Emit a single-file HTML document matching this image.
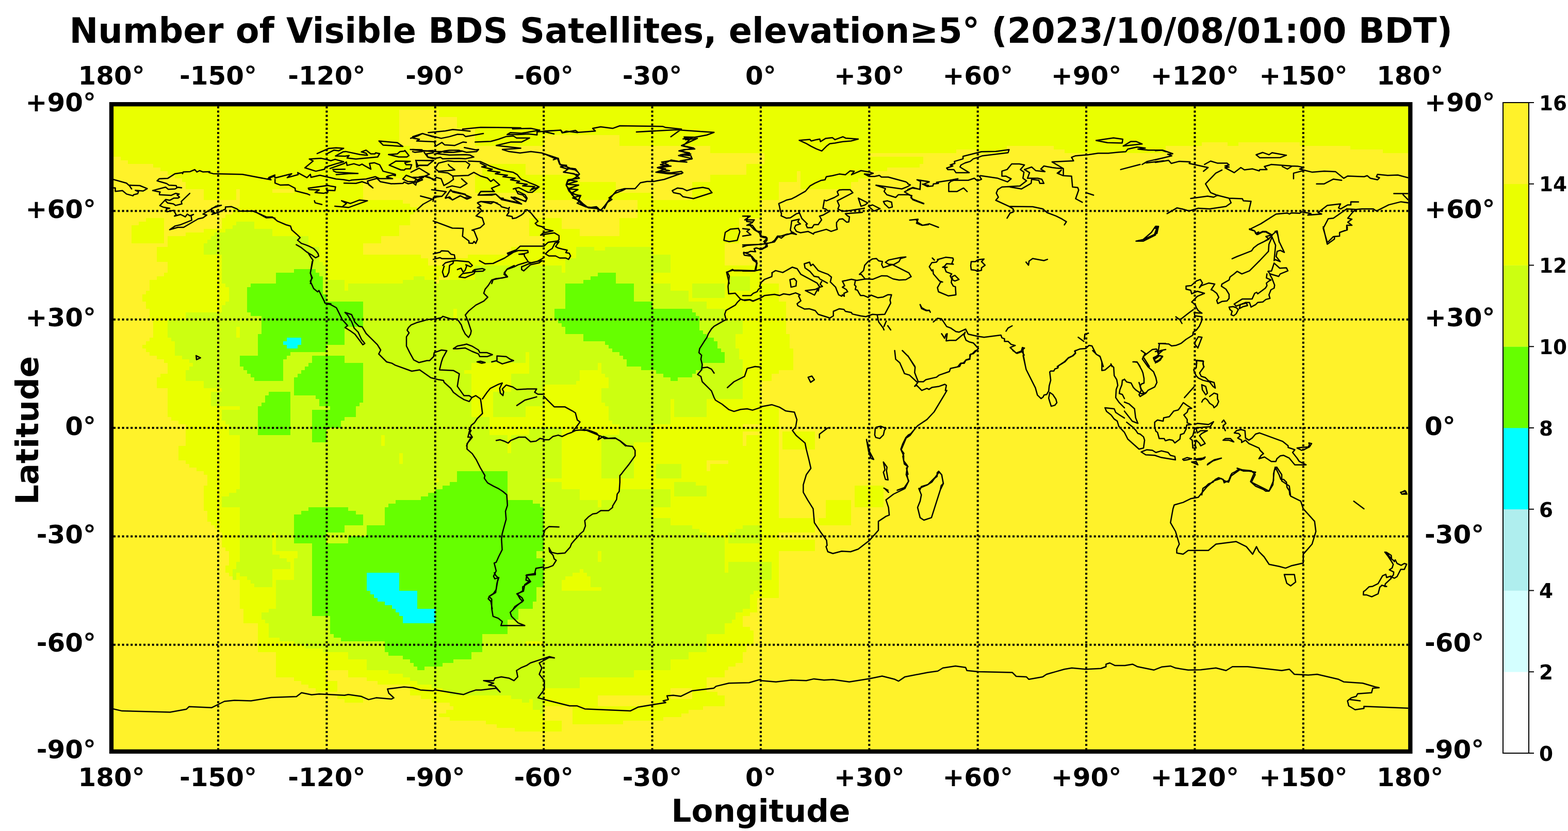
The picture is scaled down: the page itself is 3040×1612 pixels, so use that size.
<!DOCTYPE html><html><head><meta charset="utf-8"><style>html,body{margin:0;padding:0;background:#fff;}svg{display:block} text{font-family:"DejaVu Sans","Liberation Sans",sans-serif;font-weight:bold;fill:#000}</style></head><body><svg xmlns="http://www.w3.org/2000/svg" width="3040" height="1612" viewBox="0 0 3040 1612"><rect x="0" y="0" width="3040" height="1612" fill="#fff"/><rect x="216.0" y="202.2" width="2518.3" height="1255.6" fill="#fff22a"/><g transform="translate(1474.9,830.1) scale(7.0125,-7.0125)" shape-rendering="crispEdges"><path fill="#00ffff" d="M-131 25h4v-2h-4zM-132 24h1v-1h-1zM-131 23h3v-1h-3zM-109 -40h9v-5h-9zM-108 -45h13v-1h-13zM-107 -46h12v-1h-12zM-106 -47h11v-1h-11zM-104 -48h9v-1h-9zM-102 -49h7v-1h-7zM-101 -50h11v-1h-11zM-100 -51h10v-1h-10zM-99 -52h9v-2h-9z"/><path fill="#66ff00" d="M-129 44h6v-19h-6zM-134 43h5v-18h-5zM-123 43h1v-22h-1zM-45 43h5v-19h-5zM-122 42h1v-21h-1zM-47 42h2v-18h-2zM-49 41h2v-17h-2zM-141 40h7v-9h-7zM-54 40h5v-14h-5zM-40 40h5v-19h-5zM-142 39h1v-7h-1zM-121 37h1v-16h-1zM-120 35h10v-7h-10zM-35 35h5v-18h-5zM-57 33h3v-3h-3zM-30 33h11v-17h-11zM-19 32h1v-17h-1zM-138 31h4v-18h-4zM-18 31h1v-15h-1zM-56 30h2v-1h-2zM-55 29h1v-1h-1zM-120 28h5v-5h-5zM-17 27h1v-11h-1zM-139 26h1v-13h-1zM-16 26h1v-8h-1zM-134 25h3v-1h-3zM-127 25h4v-4h-4zM-15 25h2v-7h-2zM-134 24h2v-11h-2zM-43 24h3v-1h-3zM-13 24h1v-6h-1zM-132 23h1v-4h-1zM-128 23h1v-2h-1zM-42 23h2v-1h-2zM-131 22h3v-1h-3zM-41 22h1v-1h-1zM-12 22h1v-4h-1zM-131 21h1v-1h-1zM-39 21h4v-1h-4zM-11 21h1v-3h-1zM-144 20h5v-3h-5zM-124 20h9v-11h-9zM-38 20h3v-1h-3zM-37 19h2v-2h-2zM-125 18h1v-9h-1zM-115 18h5v-11h-5zM-143 17h4v-1h-4zM-126 17h1v-8h-1zM-33 17h3v-1h-3zM-142 16h3v-1h-3zM-127 16h1v-7h-1zM-29 16h10v-1h-10zM-141 15h2v-1h-2zM-128 15h1v-6h-1zM-27 15h8v-1h-8zM-140 14h1v-1h-1zM-129 14h1v-5h-1zM-25 14h2v-1h-2zM-136 10h6v-12h-6zM-137 9h1v-11h-1zM-123 9h8v-1h-8zM-122 8h7v-2h-7zM-138 7h1v-9h-1zM-115 7h4v-1h-4zM-139 6h1v-8h-1zM-119 6h7v-3h-7zM-124 5h5v-5h-5zM-119 3h4v-1h-4zM-119 2h3v-2h-3zM-124 0h4v-4h-4zM-84 -12h14v-45h-14zM-86 -15h2v-49h-2zM-88 -16h2v-49h-2zM-90 -17h2v-49h-2zM-92 -18h2v-32h-2zM-94 -19h2v-31h-2zM-101 -20h7v-20h-7zM-70 -20h7v-30h-7zM-103 -21h2v-19h-2zM-63 -21h2v-13h-2zM-125 -22h11v-5h-11zM-104 -22h1v-18h-1zM-61 -22h1v-12h-1zM-127 -23h2v-9h-2zM-114 -23h2v-4h-2zM-129 -24h2v-8h-2zM-112 -24h2v-3h-2zM-125 -27h10v-2h-10zM-109 -27h5v-13h-5zM-125 -29h5v-3h-5zM-114 -30h5v-29h-5zM-124 -32h10v-20h-10zM-63 -34h1v-14h-1zM-62 -36h2v-8h-2zM-100 -40h6v-5h-6zM-109 -45h1v-14h-1zM-95 -45h1v-5h-1zM-108 -46h1v-13h-1zM-107 -47h1v-12h-1zM-106 -48h2v-11h-2zM-104 -49h2v-13h-2zM-102 -50h1v-13h-1zM-70 -50h3v-3h-3zM-101 -51h1v-12h-1zM-119 -52h5v-5h-5zM-100 -52h1v-11h-1zM-99 -54h9v-10h-9zM-118 -57h4v-1h-4zM-84 -57h7v-5h-7zM-116 -58h2v-1h-2zM-103 -62h1v-1h-1zM-84 -62h4v-2h-4zM-97 -64h7v-1h-7zM-86 -64h1v-1h-1zM-96 -65h6v-1h-6zM-95 -66h2v-1h-2z"/><path fill="#ccff11" d="M-145 57h5v-17h-5zM-146 56h1v-50h-1zM-148 55h2v-16h-2zM-140 55h5v-15h-5zM-151 54h3v-6h-3zM-152 53h1v-5h-1zM-135 53h10v-9h-10zM-153 52h1v-4h-1zM-154 51h1v-3h-1zM-125 50h3v-6h-3zM-51 50h5v-8h-5zM-43 50h13v-7h-13zM-46 49h3v-6h-3zM-149 48h1v-8h-1zM-30 48h5v-5h-5zM-54 47h3v-7h-3zM-122 46h1v-4h-1zM-121 45h1v-8h-1zM-79 45h24v-12h-24zM-135 44h6v-1h-6zM-123 44h1v-1h-1zM-135 43h1v-3h-1zM-55 43h1v-10h-1zM-46 43h1v-1h-1zM-40 43h10v-3h-10zM-96 42h3v-61h-3zM-51 42h4v-1h-4zM-9 42h6v-4h-6zM-120 41h5v-6h-5zM-99 41h3v-61h-3zM-93 41h3v-59h-3zM-89 41h10v-8h-10zM-51 41h2v-1h-2zM-145 40h4v-1h-4zM-114 40h15v-5h-15zM-90 40h1v-54h-1zM-35 40h10v-5h-10zM-19 40h9v-4h-9zM-147 39h1v-33h-1zM-145 39h3v-11h-3zM-115 38h1v-3h-1zM-25 38h5v-5h-5zM-148 35h1v-29h-1zM-110 35h11v-37h-11zM-30 35h5v-2h-5zM-20 35h5v-2h-5zM-149 34h1v-28h-1zM-89 33h4v-48h-4zM-84 33h27v-12h-27zM-19 33h9v-1h-9zM-159 32h10v-13h-10zM-142 32h1v-12h-1zM-18 32h8v-1h-8zM-141 31h3v-5h-3zM-17 31h7v-4h-7zM-164 30h5v-5h-5zM-85 30h1v-45h-1zM-57 30h1v-18h-1zM-10 30h5v-4h-5zM-56 29h1v-17h-1zM-144 28h2v-8h-2zM-115 28h5v-10h-5zM-55 28h1v-16h-1zM-16 27h6v-1h-6zM-141 26h2v-6h-2zM-54 26h5v-10h-5zM-15 26h8v-1h-8zM-163 25h4v-1h-4zM-145 25h1v-19h-1zM-13 25h6v-1h-6zM-162 24h3v-4h-3zM-49 24h6v-6h-6zM-12 24h5v-2h-5zM-120 23h5v-3h-5zM-43 23h1v-9h-1zM-42 22h1v-20h-1zM-11 22h5v-1h-5zM-130 21h10v-1h-10zM-84 21h19v-3h-19zM-64 21h7v-9h-7zM-41 21h2v-20h-2zM-10 21h4v-13h-4zM-160 20h1v-1h-1zM-131 20h7v-2h-7zM-39 20h1v-34h-1zM-158 19h9v-1h-9zM-132 19h1v-9h-1zM-38 19h1v-33h-1zM-6 19h1v-11h-1zM-157 18h8v-5h-8zM-131 18h6v-1h-6zM-84 18h4v-2h-4zM-49 18h4v-2h-4zM-44 18h1v-3h-1zM-16 18h6v-10h-6zM-158 17h1v-4h-1zM-144 17h1v-58h-1zM-131 17h5v-1h-5zM-37 17h4v-21h-4zM-159 16h1v-3h-1zM-143 16h1v-57h-1zM-131 16h4v-1h-4zM-84 16h2v-28h-2zM-54 16h4v-3h-4zM-33 16h4v-15h-4zM-18 16h2v-13h-2zM-142 15h1v-57h-1zM-131 15h3v-1h-3zM-82 15h2v-27h-2zM-69 15h5v-9h-5zM-29 15h2v-14h-2zM-19 15h1v-12h-1zM-141 14h1v-57h-1zM-131 14h2v-4h-2zM-27 14h2v-13h-2zM-23 14h4v-11h-4zM-154 13h5v-2h-5zM-140 13h8v-3h-8zM-54 13h3v-1h-3zM-25 13h2v-5h-2zM-64 12h4v-6h-4zM-44 11h2v-4h-2zM-152 10h3v-4h-3zM-140 10h4v-1h-4zM-130 10h1v-44h-1zM-74 10h5v-7h-5zM-140 9h3v-2h-3zM-129 9h6v-4h-6zM-123 8h1v-3h-1zM-24 8h1v-5h-1zM-16 8h1v-5h-1zM-140 7h2v-1h-2zM-111 7h1v-31h-1zM-43 7h1v-1h-1zM-140 6h1v-50h-1zM-122 6h3v-1h-3zM-112 6h1v-30h-1zM-69 6h4v-3h-4zM-149 5h5v-3h-5zM-129 5h5v-27h-5zM-115 3h3v-25h-3zM-80 3h5v-15h-5zM-148 2h4v-1h-4zM-116 2h1v-24h-1zM-147 1h3v-3h-3zM-33 1h3v-5h-3zM-120 0h4v-22h-4zM-64 0h9v-14h-9zM-139 -2h9v-27h-9zM-110 -2h5v-25h-5zM-104 -2h5v-5h-5zM-75 -2h5v-10h-5zM-69 -2h5v-18h-5zM-44 -2h5v-12h-5zM-124 -4h4v-18h-4zM-37 -4h2v-10h-2zM-105 -5h1v-22h-1zM-104 -7h4v-13h-4zM-70 -7h1v-13h-1zM-100 -10h1v-10h-1zM-29 -10h7v-4h-7zM-64 -14h4v-6h-4zM-90 -15h4v-1h-4zM-60 -15h5v-57h-5zM-24 -15h6v-4h-6zM-90 -16h2v-1h-2zM-18 -16h3v-3h-3zM-145 -17h1v-5h-1zM-55 -17h5v-23h-5zM-39 -17h14v-5h-14zM-147 -18h2v-4h-2zM-93 -18h1v-1h-1zM-149 -19h2v-3h-2zM-96 -19h2v-1h-2zM-104 -20h3v-1h-3zM-63 -20h3v-1h-3zM-50 -20h5v-19h-5zM-44 -20h5v-49h-5zM-104 -21h1v-1h-1zM-61 -21h1v-1h-1zM-129 -22h4v-1h-4zM-114 -22h2v-1h-2zM-45 -22h1v-12h-1zM-39 -22h9v-45h-9zM-129 -23h2v-1h-2zM-30 -25h5v-42h-5zM-115 -27h6v-3h-6zM-25 -27h6v-35h-6zM-5 -27h5v-5h-5zM-19 -28h2v-34h-2zM-7 -28h2v-4h-2zM-139 -29h4v-15h-4zM-134 -29h4v-5h-4zM-120 -29h5v-3h-5zM-17 -29h2v-33h-2zM-9 -29h2v-3h-2zM-115 -30h1v-2h-1zM-15 -30h5v-27h-5zM-129 -32h5v-2h-5zM-128 -34h4v-26h-4zM-62 -34h2v-2h-2zM-135 -35h2v-4h-2zM-133 -36h2v-3h-2zM-129 -36h1v-24h-1zM-145 -37h1v-3h-1zM-131 -37h1v-2h-1zM-45 -37h1v-7h-1zM-9 -37h12v-5h-12zM-146 -39h1v-3h-1zM-49 -39h4v-1h-4zM-55 -40h3v-1h-3zM-48 -40h3v-1h-3zM-10 -40h1v-14h-1zM-55 -41h1v-1h-1zM-47 -41h2v-3h-2zM-134 -42h5v-16h-5zM-9 -42h9v-3h-9zM-62 -44h2v-15h-2zM-55 -45h11v-24h-11zM-9 -45h7v-1h-7zM-9 -46h6v-4h-6zM-63 -48h1v-11h-1zM-136 -50h2v-8h-2zM-67 -50h4v-9h-4zM-9 -50h4v-1h-4zM-138 -51h2v-2h-2zM-9 -51h2v-2h-2zM-124 -52h5v-9h-5zM-137 -53h1v-1h-1zM-70 -53h3v-21h-3zM-9 -53h1v-1h-1zM-119 -57h1v-5h-1zM-77 -57h7v-17h-7zM-133 -58h4v-1h-4zM-118 -58h2v-4h-2zM-116 -59h12v-3h-12zM-67 -59h2v-16h-2zM-126 -60h2v-1h-2zM-65 -60h5v-15h-5zM-121 -61h2v-1h-2zM-114 -62h11v-2h-11zM-80 -62h3v-12h-3zM-25 -62h5v-2h-5zM-103 -63h4v-5h-4zM-109 -64h6v-3h-6zM-99 -64h2v-5h-2zM-85 -64h5v-10h-5zM-97 -65h1v-5h-1zM-88 -65h3v-8h-3zM-96 -66h1v-4h-1zM-93 -66h5v-5h-5zM-95 -67h2v-4h-2zM-39 -67h4v-2h-4zM-55 -69h5v-3h-5zM-91 -71h3v-1h-3zM-86 -73h1v-1h-1zM-69 -74h2v-1h-2zM-66 -75h2v-1h-2zM-63 -75h3v-3h-3zM-61 -78h1v-1h-1z"/><path fill="#eaff00" d="M-180 90h360v-2h-360zM-180 88h80v-13h-80zM-89 88h269v-2h-269zM-84 86h264v-3h-264zM-79 83h259v-2h-259zM-79 81h19v-3h-19zM-39 81h219v-2h-219zM-39 79h161v-1h-161zM129 79h3v-1h-3zM149 79h31v-1h-31zM-100 78h3v-9h-3zM-14 78h82v-1h-82zM81 78h31v-1h-31zM163 78h17v-1h-17zM-14 77h68v-1h-68zM60 77h8v-1h-8zM84 77h28v-1h-28zM172 77h8v-1h-8zM1 76h29v-5h-29zM-177 75h77v-1h-77zM30 75h15v-2h-15zM-175 74h75v-1h-75zM-168 73h68v-1h-68zM-77 73h12v-8h-12zM-4 73h5v-10h-5zM30 73h14v-1h-14zM-166 72h66v-1h-66zM30 72h5v-1h-5zM-164 71h64v-1h-64zM1 71h9v-3h-9zM11 71h19v-2h-19zM-162 70h62v-1h-62zM-79 70h2v-5h-2zM-65 70h15v-5h-15zM-14 70h10v-12h-10zM-160 69h50v-1h-50zM11 69h16v-1h-16zM-159 68h49v-2h-49zM-50 68h10v-5h-10zM-19 68h5v-28h-5zM1 68h4v-5h-4zM11 68h14v-2h-14zM-154 66h9v-3h-9zM-144 66h9v-9h-9zM-129 66h19v-13h-19zM-135 65h6v-12h-6zM-60 65h10v-2h-10zM-40 65h10v-2h-10zM-110 63h11v-7h-11zM-34 63h15v-13h-15zM-4 63h4v-5h-4zM-99 62h2v-6h-2zM-146 61h2v-4h-2zM-97 61h2v-1h-2zM-97 60h1v-1h-1zM-148 59h2v-4h-2zM-170 58h5v-7h-5zM-149 58h1v-4h-1zM-64 58h9v-5h-9zM-39 58h5v-8h-5zM-14 58h8v-7h-8zM-172 57h2v-6h-2zM-146 57h1v-1h-1zM-140 57h5v-2h-5zM-174 56h2v-5h-2zM-110 56h10v-3h-10zM-154 55h5v-1h-5zM-55 55h5v-5h-5zM-159 54h8v-1h-8zM-164 53h12v-1h-12zM-125 53h20v-2h-20zM-60 53h5v-8h-5zM-50 53h11v-3h-11zM-164 52h11v-1h-11zM-164 51h10v-19h-10zM-125 51h15v-1h-15zM-14 51h4v-11h-4zM-167 50h3v-4h-3zM-122 50h12v-4h-12zM-69 50h9v-5h-9zM-55 50h4v-3h-4zM-46 50h3v-1h-3zM-30 50h11v-2h-11zM-154 48h5v-16h-5zM-110 48h16v-6h-16zM-81 48h12v-3h-12zM-25 48h6v-10h-6zM-94 47h2v-5h-2zM-86 47h5v-6h-5zM-55 47h1v-4h-1zM-121 46h11v-1h-11zM-120 45h10v-4h-10zM-92 45h6v-3h-6zM-81 45h2v-4h-2zM-10 45h10v-3h-10zM-165 43h1v-25h-1zM-30 43h5v-3h-5zM-167 42h2v-23h-2zM-110 42h14v-1h-14zM-93 42h4v-1h-4zM-10 42h1v-12h-1zM-3 42h3v-41h-3zM-169 41h2v-11h-2zM-115 41h16v-1h-16zM-149 40h1v-6h-1zM-115 40h1v-2h-1zM0 40h5v-25h-5zM-148 39h1v-4h-1zM-170 38h1v-5h-1zM-20 38h1v-3h-1zM-9 38h6v-8h-6zM-171 37h1v-2h-1zM-19 36h9v-1h-9zM-15 35h5v-2h-5zM5 35h2v-19h-2zM-85 33h1v-3h-1zM-164 32h5v-2h-5zM-168 30h1v-10h-1zM-5 30h2v-29h-2zM-145 28h1v-3h-1zM-7 26h2v-4h-2zM7 26h1v-10h-1zM-169 25h1v-5h-1zM-164 25h1v-22h-1zM-170 24h1v-3h-1zM-163 24h1v-22h-1zM-171 23h1v-1h-1zM-6 22h1v-3h-1zM8 22h1v-6h-1zM-65 21h1v-6h-1zM-162 20h2v-18h-2zM-160 19h2v-3h-2zM-158 18h1v-1h-1zM-80 18h15v-3h-15zM-45 18h1v-40h-1zM-160 16h1v-15h-1zM-82 16h2v-1h-2zM-50 16h5v-36h-5zM-166 15h2v-4h-2zM-80 15h11v-5h-11zM-44 15h1v-4h-1zM0 15h3v-2h-3zM-167 14h1v-3h-1zM-43 14h1v-3h-1zM-159 13h5v-23h-5zM-51 13h1v-30h-1zM-60 12h9v-12h-9zM-154 11h5v-1h-5zM-154 10h2v-23h-2zM-80 10h6v-7h-6zM-25 8h1v-18h-1zM-15 8h10v-17h-10zM-44 7h1v-9h-1zM-152 6h8v-1h-8zM-65 6h5v-6h-5zM-43 6h1v-8h-1zM0 6h5v-43h-5zM-152 5h3v-32h-3zM-75 3h10v-5h-10zM-24 3h9v-13h-9zM-161 2h1v-1h-1zM-149 2h1v-21h-1zM-42 2h1v-4h-1zM-148 1h1v-20h-1zM-41 1h2v-3h-2zM-30 1h5v-11h-5zM-65 0h1v-2h-1zM-55 0h4v-17h-4zM-5 0h5v-1h-5zM6 -1h9v-5h-9zM-147 -2h3v-15h-3zM-105 -2h1v-3h-1zM-70 -2h1v-5h-1zM-4 -2h4v-25h-4zM-35 -4h5v-13h-5zM-161 -5h2v-4h-2zM-5 -5h1v-22h-1zM-100 -7h1v-3h-1zM-9 -9h4v-19h-4zM-158 -10h4v-1h-4zM-30 -10h1v-7h-1zM-22 -10h7v-5h-7zM-14 -10h5v-20h-5zM-156 -11h2v-1h-2zM-15 -12h1v-18h-1zM-153 -13h1v-13h-1zM-90 -14h1v-1h-1zM-60 -14h5v-1h-5zM-44 -14h9v-3h-9zM-29 -14h7v-1h-7zM-29 -15h5v-2h-5zM-18 -15h3v-1h-3zM-154 -16h1v-7h-1zM26 -16h8v-6h-8zM-147 -17h2v-1h-2zM-44 -17h5v-3h-5zM-25 -17h1v-10h-1zM-24 -19h9v-8h-9zM18 -20h7v-7h-7zM-149 -22h5v-11h-5zM-30 -22h5v-3h-5zM5 -25h10v-4h-10zM16 -25h2v-2h-2zM-151 -27h2v-1h-2zM-19 -27h4v-1h-4zM-150 -28h1v-1h-1zM-17 -28h2v-1h-2zM-9 -28h2v-1h-2zM-135 -29h1v-6h-1zM-10 -30h1v-10h-1zM5 -31h10v-3h-10zM-9 -32h9v-5h-9zM-148 -33h4v-1h-4zM-147 -34h3v-3h-3zM-134 -34h6v-1h-6zM-45 -34h1v-3h-1zM-133 -35h5v-1h-5zM-131 -36h2v-1h-2zM-147 -37h2v-2h-2zM-130 -37h1v-5h-1zM3 -37h2v-10h-2zM-148 -38h1v-2h-1zM-147 -39h1v-2h-1zM-135 -39h5v-3h-5zM-50 -39h1v-6h-1zM-145 -40h1v-2h-1zM-52 -40h2v-5h-2zM-49 -40h1v-5h-1zM-144 -41h2v-9h-2zM-54 -41h2v-4h-2zM-48 -41h1v-4h-1zM-142 -42h1v-12h-1zM-135 -42h1v-8h-1zM-55 -42h1v-3h-1zM0 -42h3v-5h-3zM-141 -43h1v-11h-1zM-140 -44h5v-6h-5zM-47 -44h3v-1h-3zM-2 -45h2v-2h-2zM-3 -46h1v-5h-1zM-2 -47h1v-4h-1zM-143 -50h1v-4h-1zM-140 -50h4v-1h-4zM-5 -50h2v-2h-2zM-140 -51h2v-3h-2zM-7 -51h2v-14h-2zM-138 -53h1v-9h-1zM-8 -53h1v-13h-1zM-139 -54h1v-8h-1zM-137 -54h1v-8h-1zM-10 -54h2v-12h-2zM-5 -55h2v-5h-2zM-3 -56h1v-4h-1zM-15 -57h5v-12h-5zM-136 -58h3v-4h-3zM-133 -59h4v-10h-4zM-65 -59h5v-1h-5zM-129 -60h3v-10h-3zM-5 -60h1v-2h-1zM-126 -61h5v-10h-5zM-134 -62h1v-7h-1zM-121 -62h7v-5h-7zM-20 -62h5v-10h-5zM-114 -64h5v-5h-5zM-25 -64h5v-8h-5zM-10 -66h1v-1h-1zM-121 -67h1v-6h-1zM-109 -67h6v-3h-6zM-35 -67h10v-7h-10zM-103 -68h4v-3h-4zM-99 -69h2v-2h-2zM-50 -69h15v-5h-15zM-127 -70h1v-1h-1zM-120 -70h3v-3h-3zM-106 -70h3v-1h-3zM-97 -70h2v-4h-2zM-125 -71h4v-1h-4zM-95 -71h4v-3h-4zM-123 -72h2v-1h-2zM-91 -72h3v-4h-3zM-60 -72h10v-5h-10zM-19 -72h4v-5h-4zM-88 -73h2v-3h-2zM-15 -73h3v-4h-3zM-117 -74h7v-1h-7zM-94 -74h3v-1h-3zM-86 -74h17v-3h-17zM-50 -74h5v-8h-5zM-30 -74h5v-6h-5zM-12 -74h2v-3h-2zM-115 -75h5v-1h-5zM-69 -75h3v-8h-3zM-64 -75h1v-9h-1zM-25 -75h6v-3h-6zM-66 -76h2v-8h-2zM-85 -77h16v-4h-16zM-52 -77h2v-5h-2zM-45 -77h15v-4h-15zM-19 -77h3v-1h-3zM-87 -78h2v-2h-2zM-63 -78h2v-6h-2zM-25 -78h5v-1h-5zM-89 -79h2v-1h-2zM-61 -79h1v-5h-1zM-25 -79h3v-1h-3zM-86 -80h1v-1h-1zM-30 -80h3v-1h-3zM-76 -81h7v-1h-7zM-60 -81h5v-3h-5zM-45 -81h7v-1h-7zM-73 -82h4v-1h-4zM-68 -83h2v-1h-2z"/></g><clipPath id="mc"><rect x="220" y="206" width="2510" height="1248"/></clipPath><g clip-path="url(#mc)"><path d="M219.9 348.1 245.3 355.3 251.2 360.6 255.2 366.5M251.2 359.3 271.0 360.0 285.5 365.9 277.6 370.5 262.4 369.2 268.4 371.8 267.0 375.8 259.1 377.7 257.8 379.7 245.3 376.4 237.4 369.8 223.5 371.2 223.5 364.6 219.9 364.6M533.0 339.5 521.4 344.1 525.4 348.8 470.0 338.2 413.3 336.9 405.4 334.9 406.7 332.9 393.6 333.6 387.0 331.0 381.7 333.6 377.7 329.0 368.5 332.9 355.3 333.6 354.0 336.9 353.4 334.9 339.5 336.9 325.0 346.1 308.6 346.8 304.6 350.7 323.0 356.0 327.7 359.3 341.5 360.0 342.8 363.3 352.0 364.3 344.8 363.3 339.5 366.5 326.3 367.2 321.1 363.0 296.0 369.6 303.9 371.2 310.5 372.5 309.2 375.1 309.2 377.7 331.6 379.1 340.2 375.1 347.4 376.4 343.5 378.4 348.1 382.4 344.8 384.3 336.9 384.3 329.0 388.6 321.1 387.0 309.9 398.8 317.1 402.1 329.0 404.1 322.4 405.4 323.7 410.7 336.9 408.1 341.5 416.6 338.2 419.3 350.1 416.0 359.3 420.6 363.2 415.3 367.9 418.6 375.1 416.0 370.5 418.6 371.8 427.2 350.7 435.7 339.5 438.4 329.0 445.6 344.8 441.0 356.0 441.0 384.3 424.5 393.6 422.5 400.8 417.3 393.6 415.3 418.6 400.1 429.1 398.2 410.7 404.1 409.4 410.7 416.0 412.0 410.7 416.0 426.5 410.7 437.1 405.4 437.1 401.5 448.9 400.8 459.5 405.4 464.7 409.4 492.4 409.4 516.1 422.5 526.7 421.9 533.0 423.2M367.9 375.1 351.4 390.9 352.7 395.5 340.2 398.6 336.2 395.5 325.0 393.8 321.1 389.6M520.0 346.0 532.5 341.3 533.2 345.3 541.1 343.3 565.5 337.0 556.9 344.6 578.0 338.7 577.3 334.8 595.1 344.6 601.7 338.1 603.0 344.0 620.2 340.0 651.8 347.3 666.3 348.6 676.8 350.6 682.1 349.3 709.8 347.3 727.6 342.7 736.1 346.6 761.2 346.6 749.3 343.3M667.0 355.2 690.0 355.8 701.9 352.5 713.7 356.5 723.0 364.4 715.1 358.5 712.4 351.2 730.9 346.0 737.5 352.5 758.6 356.5 781.0 355.8 783.6 353.2 791.5 356.5 800.7 354.5 806.0 359.1 807.3 353.9 819.2 348.6 812.6 343.3 821.8 342.0M639.9 326.9 667.6 317.0 671.6 314.3 672.9 320.9 686.1 317.6 696.6 320.9 701.9 318.3 705.8 320.9 719.0 328.2 716.4 317.0 725.6 315.7 736.1 319.6 742.7 332.1 766.5 338.1 766.5 340.7 761.2 339.4 750.6 342.0M645.2 328.8 668.9 328.2M651.8 338.7 676.8 336.7 694.0 336.5 651.8 334.1 646.5 331.5M591.2 325.5 607.0 312.4 599.7 308.4 622.8 307.1 634.7 309.7 641.3 311.7 649.8 309.1 666.3 313.7 651.8 317.6 630.7 324.2 629.4 328.2 612.3 332.1 591.2 325.5M614.9 297.9 637.3 288.0 651.8 286.7 666.3 287.7 656.4 292.6 647.2 291.3 636.0 297.2 632.0 298.5M650.5 302.5 665.0 294.6 670.2 293.9 697.9 299.8 712.4 301.2 709.8 297.2 700.6 294.6 709.8 291.3 719.0 298.5 726.9 298.5 728.2 296.5 736.1 297.9 732.2 304.5 690.0 308.4 672.9 306.4 676.8 301.8 668.9 303.1 650.5 302.5M734.8 273.5 770.4 276.8 781.0 284.0 742.7 281.4 734.8 273.5M753.3 299.8 770.4 298.5 775.7 293.9 783.6 293.3 784.9 291.9 792.8 301.8 788.9 304.5 773.0 304.5 753.3 299.8M754.6 320.3 762.5 315.7 767.8 312.4 795.5 313.0 784.9 315.7 787.5 319.6 798.1 319.6 795.5 327.5 786.2 327.5 783.6 330.1 777.0 329.5 754.6 320.3M795.5 290.0 817.9 290.6 819.2 293.3 840.0 291.9M840.0 296.5 827.1 298.5 829.7 305.1 840.0 307.7M796.1 268.2 810.0 263.6 819.2 259.0 840.0 265.6M806.0 311.0 840.0 311.7 829.1 320.9 810.0 320.9 806.0 311.0M796.8 334.1 812.6 326.2 832.4 338.1 823.1 342.0 840.0 347.3M781.0 347.3 787.5 340.0 807.3 347.3 803.4 352.5 790.2 351.9 781.0 347.3M597.8 365.1 636.0 359.8 641.3 361.1 650.5 362.4 649.2 369.7 633.3 369.0 636.0 372.3 628.1 374.9 610.9 373.6 618.8 368.4 599.1 367.7 597.8 365.1M533.2 347.9 533.2 355.2 543.7 359.1 559.5 358.5 572.1 365.1 572.7 370.3 596.4 376.3 600.4 378.2M609.6 389.4 610.9 393.4 624.1 396.7M649.2 400.0 663.7 401.3 675.5 402.6 712.4 389.4 696.6 388.1 679.5 394.7 662.3 389.4 671.6 394.7 665.0 400.0M815.2 380.2 840.0 386.8M808.6 406.6 820.5 396.0 840.0 385.5M800.0 265.1 818.5 259.1 855.4 268.4 871.2 265.1 887.0 260.5 898.2 261.1 902.8 265.1 937.1 259.1M800.0 267.7 813.2 270.3 807.9 273.6 842.2 275.0 844.8 283.5 856.7 276.3 861.9 280.9 881.7 282.2 897.5 275.6 904.1 276.3M830.3 257.2 863.3 253.9 877.8 251.2 900.2 253.2 911.4 254.5M896.9 250.6 931.8 246.9 964.7 247.3 1009.6 247.9 993.7 249.9 1029.3 249.0 1046.5 252.6M1046.5 252.6 1010.9 258.5 989.8 257.2 983.2 261.1 1004.3 261.1 1024.1 259.8 1041.2 261.8 1041.2 255.8 1087.3 252.6 1090.0 257.8 1097.9 254.5 1120.0 257.2M1054.4 255.2 1074.1 259.8M921.3 275.6 951.6 274.3 966.1 270.3 980.6 265.1 995.1 263.8 1001.6 267.7 1026.7 267.7 1010.9 275.6 989.8 275.6 962.1 282.2 1009.6 287.5 974.0 290.1 987.1 294.1 1008.2 296.7 1029.3 294.1 1050.4 296.7 1080.7 306.6 1084.7 317.8 1090.0 320.4 1099.2 323.1 1101.8 327.0 1115.0 329.6 1120.0 333.6M900.2 286.2 922.6 290.8 927.8 290.1 923.9 294.1 904.1 295.4 894.9 292.7 879.1 295.4 856.7 294.1 838.2 294.1 818.5 292.1 800.0 290.8M800.0 290.1 818.5 290.8 818.5 294.1 804.0 295.4 800.0 294.1M822.4 295.4 829.0 304.6 843.5 307.2 854.0 305.3 858.0 307.9 889.6 307.2 902.8 307.9 918.6 304.6 910.7 300.7 902.8 300.0 871.2 300.7 847.4 298.0M842.2 299.3 861.9 292.7 871.2 291.4 889.6 291.4 894.9 293.4 879.1 295.4 860.6 295.4M806.6 311.2 840.9 311.2 829.0 320.4 813.2 320.4 807.9 324.4 806.6 311.2M843.5 327.0 850.1 316.5 868.5 311.9 880.4 313.2 902.8 313.2 910.7 319.1 906.8 326.3M843.5 327.0 850.1 332.3 868.5 331.0 881.7 329.6 871.2 321.7 869.2 319.1M908.1 312.5 931.8 313.6 943.7 319.1 948.9 321.7 967.4 328.3 983.2 332.3 995.1 334.3 1003.0 338.9 1008.2 345.5 1010.9 348.1 1021.4 352.0 1026.7 354.7 1037.2 358.6 1045.1 362.6 1037.2 365.2 1028.0 369.2M850.1 333.6 868.5 335.6 877.8 341.5 879.1 348.1 869.9 354.7 860.6 359.9 855.4 346.8 846.1 344.1 840.9 349.4 832.9 344.1 823.7 341.5M877.8 341.5 908.1 340.2 918.6 334.3 931.8 341.5 945.0 345.5 951.6 352.0 956.8 348.1 968.7 358.6 952.9 365.2 958.2 371.8 931.8 371.8 927.8 378.4 951.6 377.1 960.8 376.4 970.0 385.0 991.1 390.3 1005.6 392.9M894.9 346.8 905.4 356.0 892.3 363.9 876.4 360.6 865.9 363.9M800.0 344.1 821.1 344.1 807.9 349.4 818.5 349.4 800.0 354.7M836.9 367.9 864.6 371.8 856.7 381.0 842.2 380.4 839.5 390.3M863.3 383.7 873.8 367.9 877.8 372.5 900.2 377.1 913.3 383.0 905.4 386.3 892.3 379.7 877.8 387.6 869.9 383.7M995.1 366.5 1005.6 363.9 1024.1 373.1 1032.0 373.1 1045.1 362.6M999.0 365.2 1004.3 375.8 1013.5 378.4 1021.4 386.3 1018.8 390.3 991.1 382.3M926.5 392.9 931.8 390.9 956.8 391.6 964.7 394.2M1072.8 309.9 1080.7 307.2M1092.6 333.6 1120.0 338.9M1120.0 341.5 1113.7 345.5 1100.5 352.0 1097.9 359.9 1103.1 366.5 1108.4 377.1 1116.3 386.3 1120.0 387.6M1054.0 254.2 1087.4 252.4 1091.3 257.6 1115.7 253.0 1120.8 256.8 1154.2 254.2 1149.1 249.1 1164.5 246.0 1187.7 249.1 1201.8 244.0 1233.9 244.5 1285.3 245.3 1290.5 247.3 1321.3 250.4 1300.7 265.3M1357.3 255.0 1384.3 256.8 1370.1 262.0 1347.0 266.3 1326.4 265.8 1329.0 270.9 1352.1 268.4 1321.3 282.5 1347.0 288.9 1326.4 290.2 1316.2 292.8 1336.7 296.6 1318.7 300.5 1339.3 301.8 1341.9 308.2 1318.7 312.1 1331.6 314.6 1298.2 312.1 1282.7 314.6 1295.6 319.8 1275.0 324.9 1290.5 327.5 1272.5 333.9 1300.7 335.2 1321.3 332.6 1323.9 335.2 1287.9 348.0 1267.3 351.9 1254.5 351.9 1241.6 354.5 1231.3 366.0 1210.8 366.0 1195.4 369.9 1187.7 378.9 1179.9 389.1 1172.2 399.4 1164.5 408.4 1156.8 404.6 1141.4 403.3 1128.5 396.9 1118.3 386.6 1110.5 378.9 1102.8 369.9 1097.7 358.3 1100.3 350.6 1115.7 345.5 1123.4 337.8 1115.7 327.5 1105.4 326.2 1095.1 322.3 1086.1 319.8 1082.3 306.9 1074.6 306.9 1054.0 297.9M1233.9 256.0 1311.0 251.7 1357.3 255.0M1303.3 369.9 1313.6 364.7 1323.9 366.0 1331.6 369.9 1344.4 366.0 1362.4 363.5 1374.0 366.0 1380.4 373.7 1344.4 385.3 1323.9 381.4 1318.7 376.3 1305.9 373.7 1303.3 369.9M1403.5 466.2 1406.1 450.8 1416.4 444.4 1431.8 443.1 1434.4 449.5 1429.3 466.2 1413.8 468.8 1403.5 466.2M1442.1 489.4 1455.0 494.5 1460.1 504.8 1467.8 509.9 1465.2 525.3 1421.5 524.0 1408.7 527.9 1413.8 550.0M840.0 428.6 876.9 442.5 898.0 443.1 896.7 458.3 909.2 467.5 909.2 471.5 916.4 472.1 919.1 468.2 922.4 472.1 925.7 464.2 919.1 447.7 915.1 446.4 930.9 441.8 938.8 434.6 934.9 422.7 923.0 418.8 933.6 408.9 930.9 404.3 925.7 402.9 932.3 399.6 925.7 393.7 932.3 391.1 952.0 395.0 957.3 391.7 970.5 398.3 971.8 401.0 986.3 404.9 987.6 402.3M986.3 404.9 986.3 412.2 982.3 418.1 992.9 420.1 993.5 424.0 1000.8 422.7 1011.3 416.8 1015.3 413.5 1017.9 407.6 1021.9 406.9 1029.8 413.5 1035.1 420.1 1043.0 429.3 1037.7 433.3 1041.6 437.2 1050.9 439.8 1057.5 445.1 1072.0 447.7 1053.5 451.7 1048.2 456.3 1057.5 454.3 1074.6 451.7 1083.8 457.0 1083.8 464.9 1081.2 467.5 1062.7 470.1 1054.8 477.4 1008.7 477.4 1000.8 484.6 983.7 491.2 985.0 493.2 1004.7 486.0 1023.2 486.0 1023.9 489.9 1016.6 491.9 1006.1 493.2 1016.6 493.2 1016.6 496.5 1021.9 504.4 1024.5 508.4 1029.8 509.7 1041.6 507.0 1053.5 500.5M929.6 505.7 940.2 511.7 956.0 511.0 978.4 500.5 999.5 486.6M1021.9 508.4 1004.7 513.6 996.8 517.6 982.3 522.9 977.1 532.1 983.7 537.3 971.8 539.3 956.0 542.6 953.3 550.0M1011.3 517.6 1011.3 522.9 1015.3 525.5 1028.5 513.6 1045.6 509.7 1050.9 505.7 1041.6 507.0 1027.1 511.0 1011.3 517.6M1057.5 492.5 1064.1 486.0 1070.6 482.0 1074.6 474.1 1075.9 471.5 1083.8 468.8 1077.2 478.1 1081.2 480.7 1090.4 483.3 1099.6 485.3 1097.0 489.9 1103.6 491.2 1106.2 496.5 1102.3 503.1 1097.0 500.5 1085.1 500.5 1077.2 496.5 1064.1 496.5 1057.5 492.5M840.0 383.2 857.1 380.5 865.0 372.0M863.7 384.5 871.6 381.9 876.9 387.8 892.7 379.9 899.3 383.2 909.9 384.5 913.1 382.5 904.6 380.5 901.9 376.6 879.5 371.3 872.9 370.0M927.0 378.6 932.3 371.3 958.6 371.3M927.0 378.6 953.3 378.6 961.3 376.6 970.5 384.5 975.7 384.5 971.8 387.1 1011.3 395.7 991.6 383.2 998.2 382.5 1019.2 391.1 1021.9 384.5 1017.9 377.9 1004.7 371.3M1103.6 371.3 1116.8 377.9 1126.0 379.2 1122.0 387.1 1130.0 395.0 1140.5 402.9 1156.3 401.0 1160.0 404.3M840.0 492.5 853.2 489.3 855.8 486.6 869.0 487.3 874.3 493.2 880.9 494.5 882.2 501.8 866.4 501.8 857.1 501.8 853.2 499.8 840.0 503.1M858.5 514.9 863.7 509.7 874.3 507.0 879.5 505.7 878.2 511.0 871.6 514.9 870.3 528.1 866.4 536.0 861.1 537.3 857.8 527.5 861.1 516.3M879.5 505.7 886.1 505.7 908.5 507.7 915.8 514.9 912.5 517.6 903.3 513.6 904.6 516.3 901.9 524.2 898.0 528.1 894.0 520.2 890.1 521.5 886.8 522.9M890.1 537.3 896.7 530.8 915.1 528.1 921.7 525.5 919.1 530.8 901.9 538.7 890.1 537.3M916.4 525.5 920.4 522.9 934.9 520.9 940.2 522.9 936.2 526.1 920.4 526.8M633.0 589.3 640.7 590.6 652.2 597.0 663.7 620.1 674.0 631.6 668.9 635.4 679.1 641.8 688.1 648.2 695.8 658.5 703.5 668.7 707.3 666.2 700.9 658.5 694.5 644.4 686.8 636.7 681.7 623.9 674.0 611.1 668.9 606.0 681.7 610.3 688.1 625.2 695.8 632.9 702.2 634.1 709.9 647.0 717.6 654.6 731.7 668.7 738.1 679.0 734.2 686.7 749.6 702.0 759.8 704.6 766.2 708.4 798.3 720.0 813.6 717.4 835.4 732.8 850.8 736.6 859.8 737.9 861.1 741.8 873.9 753.3 879.0 761.0 889.2 768.7 899.5 775.1 909.7 778.9 914.9 771.2 922.5 767.4 931.5 773.8 932.8 781.5 935.4 802.0 925.1 812.2 920.0 819.9 913.6 825.0 909.7 837.8 907.2 848.1 913.6 848.1 907.2 858.3 904.6 865.0M935.4 773.8 944.3 761.0 950.7 753.3 966.1 745.6 973.8 743.0 968.7 753.3 970.0 762.3 975.1 767.4 976.4 759.7 973.8 754.6 981.5 746.9 994.3 750.7 1002.0 755.8 1022.5 754.6 1040.4 754.6 1036.6 761.0 1043.0 764.8 1054.0 764.8M1002.0 786.6 1017.4 776.3 1040.4 769.9M996.9 515.0 984.0 521.4 977.6 529.1 984.0 536.8 973.8 539.3 961.0 540.6 953.3 543.2 946.9 553.4 940.5 561.1 937.9 568.8 945.6 576.5 937.9 584.2 922.5 591.9 908.5 603.4 902.1 611.1 907.2 622.6 913.6 641.8 912.3 648.2 908.5 654.6 902.1 648.2 896.9 638.0 894.4 630.3 889.2 622.6 884.1 618.8 873.9 618.8 858.5 613.6 855.9 616.2 844.4 618.8 827.7 620.1 820.1 622.6 809.8 625.2 797.0 630.3 791.9 635.4 789.3 640.5 793.1 645.7 788.0 653.4 788.0 671.3 794.4 684.1 802.1 698.2 812.4 703.3 827.7 699.5 832.9 699.5 840.6 691.8 841.8 684.1 855.9 679.0 866.2 680.3 858.5 694.4 855.9 702.0 852.1 717.4 879.0 718.7 890.5 725.1 886.7 749.4 899.5 767.4 909.7 767.4 914.9 771.2M879.0 676.4 886.7 671.3 899.5 668.7 904.6 667.5 914.9 671.3 927.7 679.0 930.2 684.1 944.3 684.1 954.6 688.0 944.3 691.8 930.2 691.8 927.7 686.7 914.9 681.5 902.1 675.1 886.7 676.4 879.0 676.4M953.3 702.0 963.5 699.5 963.5 690.5 981.5 691.8 989.2 696.9 995.6 699.5 986.6 702.0 973.8 705.9 963.5 700.8M925.1 702.0 931.5 700.8 940.5 703.3 934.1 704.6 925.1 702.0M1054.0 768.7 1064.2 778.9 1074.5 789.2 1095.0 789.2 1109.1 796.8 1115.5 800.7 1119.3 814.8 1124.5 818.6 1116.8 828.9 1110.4 836.6M1130.9 832.7 1138.6 835.3 1166.7 846.8 1171.9 850.7 1192.4 849.4 1202.6 855.8 1212.9 865.0M1410.2 527.8 1414.0 535.5 1411.5 556.0 1412.7 570.1 1425.5 568.8 1435.8 580.3 1443.5 582.9 1453.7 581.6 1458.9 584.2 1475.0 577.8M1410.2 527.8 1420.4 522.7 1423.0 525.2 1464.0 525.2 1475.0 522.7M1435.8 580.3 1429.4 586.7 1425.5 591.9 1407.6 602.1 1405.0 609.8 1407.6 620.1 1402.5 622.6 1384.5 632.9 1379.4 638.0 1373.0 648.2 1370.5 654.6 1365.3 662.3 1356.4 676.4 1355.1 684.1 1360.2 689.2 1358.9 696.9 1361.5 707.2 1360.2 717.4 1352.5 726.4 1358.9 730.2 1361.5 740.5 1371.7 750.7 1379.4 758.4 1384.5 771.2 1387.1 776.3 1399.9 784.0 1412.7 794.3 1423.0 798.1 1435.8 794.3 1448.6 793.0 1458.9 795.6 1475.0 790.4M1361.5 713.6 1371.7 712.3 1379.4 716.1 1384.5 723.8M1410.2 752.0 1423.0 740.5 1443.5 730.2 1448.6 714.9 1464.0 711.0 1475.0 712.3M1054.0 853.1 1064.3 853.1 1072.0 846.7 1082.3 844.1 1090.0 846.7 1100.3 841.6 1108.0 839.0 1115.7 835.1 1126.0 833.9 1133.7 835.1 1138.8 833.9 1146.5 836.4 1156.8 840.3 1161.9 846.7 1159.4 853.1 1169.7 846.7 1179.9 850.6 1194.1 850.6 1203.1 855.7 1214.6 864.7 1226.2 866.0 1231.3 873.7 1231.3 884.0 1218.5 901.9 1208.2 914.8 1204.4 919.9 1201.8 922.5 1201.8 935.4 1200.5 953.3 1196.6 958.5 1195.4 968.8 1187.7 981.6 1187.7 984.2 1179.9 990.6 1172.2 990.6 1164.5 990.6 1156.8 995.7 1149.1 997.0 1141.4 1002.2 1133.7 1009.9 1135.0 1020.1 1131.1 1030.4 1124.7 1035.6 1120.8 1040.7 1114.4 1047.1 1108.0 1054.8 1105.4 1061.3 1095.1 1072.8 1081.0 1074.1 1069.4 1071.5 1064.3 1062.5 1065.6 1070.3 1072.0 1076.7 1074.6 1084.4 1078.4 1087.0 1072.0 1097.2 1061.7 1101.1 1054.0 1102.4M1054.0 1035.6 1056.6 1027.9 1064.3 1021.4 1083.6 1022.2M909.3 832.6 913.2 835.1 910.6 840.3 915.7 848.0 910.6 854.4 905.4 860.8 905.4 871.1 915.7 880.1 923.4 891.7 931.1 907.1 940.1 922.5 938.9 927.6 945.3 936.6 956.8 943.1 967.1 948.2 974.8 953.3 982.5 959.8 983.8 980.3 980.0 991.9 981.3 1007.3 977.4 1021.4 973.6 1035.6 972.3 1045.8 973.6 1066.4 967.1 1079.2 962.0 1090.8 958.1 1092.1 962.0 1107.5 956.8 1117.8 959.4 1122.9 967.1 1120.4 964.6 1128.1 962.0 1143.5 956.8 1151.2 949.1 1156.3 946.6 1161.5 951.7 1166.6 954.3 1181.0M962.0 854.4 969.7 853.1 977.4 855.7 985.1 859.5 990.3 854.4 1005.7 848.0 1018.5 848.0 1028.8 857.0 1039.1 855.7 1046.8 850.6 1054.0 851.8M1054.0 1099.8 1039.1 1102.4 1036.5 1112.7 1021.1 1115.2 1019.8 1125.5 1028.8 1128.1 1013.4 1138.3 1013.4 1146.1 1003.1 1152.5 1008.3 1161.5 1013.4 1166.6 998.0 1176.9 995.4 1181.0M958.4 1111.0 961.0 1116.1 966.1 1121.2 963.5 1131.5 961.0 1149.4 948.2 1157.1 953.3 1162.2 953.3 1180.2 955.9 1195.6 966.1 1199.4 973.8 1205.8 971.2 1213.5 1017.4 1213.5 1004.5 1208.4 991.7 1195.6 989.2 1187.9 1002.0 1175.1 1014.8 1164.8 1012.2 1159.7 1002.0 1152.0 1014.8 1146.9 1017.4 1134.1 1027.6 1126.4 1019.9 1116.1 1037.9 1114.8 1037.9 1111.0M219.4 1375.2 236.5 1379.1 329.7 1381.6 361.5 1375.7 366.4 1370.8 410.6 1372.7 435.1 1360.5 454.7 1358.5 486.6 1359.5 525.8 1353.1 574.8 1351.2 584.6 1343.8 604.2 1347.7 618.9 1346.3 668.0 1348.7 675.3 1347.3 699.8 1350.7 714.6 1357.1 729.3 1353.6 758.7 1356.1 763.6 1353.6 753.8 1344.8 751.3 1336.5 783.2 1332.5 800.4 1334.0 815.1 1338.4 839.6 1339.9 844.5 1338.4 898.4 1347.3 910.7 1342.4 922.9 1338.4 932.7 1338.4 962.2 1335.0 969.5 1342.4 959.7 1331.1 947.4 1329.1 957.2 1325.2 937.6 1320.3 957.2 1320.3 959.7 1315.4 972.0 1312.9 986.7 1315.4 996.5 1320.3 1003.8 1312.9 1001.4 1300.7 1011.2 1294.8 1021.0 1290.9 1028.3 1286.0 1050.4 1278.6 1065.1 1273.7 1074.9 1276.2 1065.1 1275.2 1045.5 1286.0 1050.4 1295.8 1045.5 1308.0 1055.3 1320.3 1055.3 1337.4 1043.1 1353.6 1065.1 1359.5 1104.3 1369.3 1119.0 1369.3 1133.8 1375.2 1222.0 1379.1 1236.7 1371.8 1280.8 1364.4 1290.6 1362.9 1285.7 1359.5 1295.6 1357.1 1293.1 1349.7 1305.4 1348.7 1320.1 1350.7 1342.1 1339.9 1383.8 1335.0 1388.7 1331.1 1413.2 1325.2 1452.4 1324.2 1475.0 1317.8M1475.0 1320.3 1504.4 1322.7 1533.8 1319.3 1563.3 1320.3 1578.0 1316.9 1597.6 1319.3 1614.7 1318.3 1646.6 1322.7 1685.8 1316.4 1710.3 1311.5 1734.9 1317.8 1742.2 1321.3 1754.5 1312.9 1798.6 1304.6 1818.2 1301.7 1828.0 1295.8 1852.5 1291.9 1872.1 1294.8 1874.6 1300.7 1896.7 1303.1 1962.8 1304.6 1970.2 1312.0 1989.8 1312.9 1994.7 1317.8 2021.7 1312.9 2029.0 1308.0 2046.2 1303.1 2063.4 1298.2 2078.1 1295.8 2105.0 1298.2 2134.4 1296.8 2144.3 1293.3 2144.3 1288.4 2151.6 1286.0 2161.4 1290.9 2181.0 1290.9 2195.7 1288.4 2205.5 1293.3 2237.4 1299.7 2252.1 1293.8 2269.3 1291.9 2279.1 1295.8 2303.6 1299.7 2328.1 1299.2 2357.5 1295.8 2377.1 1300.7 2389.4 1293.3 2418.8 1293.3 2485.0 1300.7 2499.7 1298.2 2509.5 1308.0 2536.5 1309.5 2553.6 1308.0 2595.3 1317.8 2605.1 1322.7 2641.9 1325.2 2666.4 1332.5 2673.8 1334.0 2661.5 1335.0 2659.1 1343.8 2632.1 1345.8 2629.6 1350.7 2619.8 1353.6 2612.5 1359.5 2614.9 1369.3 2627.2 1376.7 2644.4 1374.2 2644.4 1370.3 2738.0 1374.2M2617.4 1357.1 2637.0 1359.5M491.0 409.9 496.0 411.7 517.1 421.1 528.3 421.1 538.3 429.2 554.5 436.0 563.2 438.5 565.7 446.0 576.9 455.9 581.9 460.9 576.9 465.9 584.3 472.1 591.8 474.6 599.3 477.7 608.0 482.0 613.0 487.0 616.7 492.0 617.9 497.0 611.7 500.1 604.3 494.5 595.5 489.5 583.1 479.6 574.4 474.6M596.8 489.5 603.0 499.5 606.7 504.5 604.3 516.9 601.8 529.3 604.3 539.3 601.8 550.0M605.5 507.0 601.6 530.1 605.5 539.1 601.6 545.5 608.1 559.7 615.8 566.1 618.3 563.5 620.9 568.7 628.6 584.1 629.9 587.9 641.5 589.2M1513.1 409.4 1511.2 400.1 1509.9 394.9 1519.1 390.9 1524.3 388.3 1534.9 385.7 1542.8 381.7 1552.0 376.4 1561.3 371.2 1570.5 360.6 1579.7 355.3 1591.6 350.1 1599.5 348.8 1602.1 342.8 1614.0 340.8 1627.1 337.6 1639.0 338.9 1648.2 331.6 1656.1 332.3 1650.9 338.9 1661.4 334.3 1669.3 331.0 1685.1 333.6 1693.0 336.2 1686.5 338.2 1675.9 337.6 1685.1 342.2 1695.7 342.2 1704.9 340.2 1708.9 343.5 1722.0 343.5 1756.3 352.7 1760.0 355.3M1760.0 361.9 1748.4 366.5 1698.3 359.3 1716.8 365.9 1714.1 371.2 1719.4 377.7 1736.5 383.0 1741.8 377.7 1760.0 377.7M1513.1 409.4 1515.1 414.6 1514.5 418.6 1524.3 423.2 1532.3 422.5 1544.1 414.6 1549.4 413.3 1548.1 408.7 1554.7 423.9 1565.2 434.4 1562.6 435.7 1565.2 441.7 1574.4 441.7 1578.4 435.7 1586.3 435.7 1592.9 426.5 1590.2 421.2 1588.9 419.3 1595.5 417.3 1607.4 410.7 1600.8 405.4 1595.5 404.1 1598.2 388.3 1602.1 389.6 1617.9 383.0 1625.8 378.4 1623.2 371.8 1627.1 368.5 1633.7 367.9 1648.2 367.9 1653.5 373.8 1623.2 389.6 1627.1 398.8 1624.5 405.4 1632.4 409.4 1640.3 409.4 1675.9 404.1M1672.0 412.0 1639.0 414.6 1643.0 418.6 1646.9 420.6 1645.6 430.5 1641.6 431.1 1633.7 424.5 1627.1 425.2 1621.9 431.8 1621.9 438.4 1623.2 444.9 1611.3 448.9 1602.1 444.9 1578.4 451.5 1577.1 454.2 1566.5 448.9 1552.0 451.5 1544.1 448.9 1540.2 442.3 1542.8 437.0 1552.0 434.4 1546.8 430.5 1549.4 425.2 1534.9 428.5 1533.6 438.4 1532.3 446.3 1534.9 450.2 1544.1 454.8 1534.9 452.9 1525.7 454.2 1513.8 458.1 1507.2 458.1 1501.9 466.0 1496.7 470.0 1486.1 472.6 1475.6 473.9 1440.0 475.3M1664.1 384.3 1674.6 389.6 1682.5 393.6 1677.2 397.5 1669.3 400.1 1666.7 392.2 1664.1 384.3M1683.8 400.1 1691.7 397.5 1706.2 404.8 1694.4 409.4 1683.8 400.1M1712.8 390.9 1720.7 389.6 1728.6 392.2 1730.0 401.5 1723.4 403.4 1715.5 396.2 1712.8 390.9M1440.0 419.3 1454.5 419.3 1444.0 426.5 1462.4 426.5 1458.5 431.8 1447.9 437.0 1458.5 437.0 1466.4 447.6 1475.6 450.2 1474.3 458.1 1484.8 459.4 1487.4 462.1 1480.9 468.7 1484.8 472.6M1440.0 443.6 1453.2 444.9 1447.9 448.9 1455.8 455.5 1440.0 458.1M1440.0 478.8 1448.8 475.9 1483.9 472.9 1501.5 469.3 1508.8 459.0 1514.7 462.0 1522.0 456.1 1530.8 453.9 1536.6 450.2 1543.2 454.6M1486.8 471.5 1487.6 478.1 1476.6 483.9 1466.4 481.0 1462.0 482.5 1464.9 488.3 1454.6 487.6 1450.2 489.8 1441.5 490.5 1442.9 494.9 1457.6 497.1 1463.4 504.4 1467.1 505.9 1466.4 513.2 1463.4 525.7 1440.0 525.7M1497.1 529.3 1496.4 536.6 1482.5 541.8 1475.1 548.3 1472.9 555.7 1475.9 558.6 1470.7 560.8 1467.8 565.9 1460.5 568.8 1456.1 573.2 1440.0 573.5M1496.4 529.3 1503.7 524.9 1517.6 528.6 1535.9 518.3 1545.4 521.3 1552.7 532.2 1584.2 549.1 1588.6 555.7 1586.4 564.5M1559.3 511.7 1560.8 519.8 1570.3 526.4 1578.3 535.9 1587.1 537.4 1589.3 541.0 1604.0 549.1M1593.0 546.1 1590.1 551.3 1594.5 555.7 1589.3 557.1M1559.3 511.7 1569.6 508.5 1571.8 515.4 1576.2 512.5 1586.4 524.9 1593.7 527.8 1605.4 532.2 1612.0 537.4 1609.8 546.9 1620.1 557.1 1622.3 563.0 1625.9 571.8 1631.8 574.7 1633.2 571.8 1636.9 574.7 1636.2 568.8 1643.5 565.9 1640.6 561.5 1633.2 557.1 1637.6 554.2 1634.7 548.3 1633.2 545.4 1640.6 544.0 1650.8 541.8 1661.1 544.0 1674.2 541.8 1681.6 541.0M1561.5 563.7 1580.5 561.5 1586.4 558.6 1579.1 572.5 1561.5 563.7M1531.5 542.5 1539.6 540.3 1544.2 545.4 1543.2 554.9 1533.7 557.1 1531.5 542.5M1658.1 545.4 1656.7 552.7 1659.6 555.7 1658.1 561.5 1662.5 563.0 1665.5 568.8 1668.4 573.2 1674.2 573.2 1683.0 576.9 1688.9 572.5 1702.1 577.6 1712.3 576.2 1721.1 571.8 1728.4 571.8 1725.5 582.0 1726.9 587.9 1715.2 609.8 1700.6 610.6M1677.2 541.0 1669.8 532.2 1666.2 532.2 1674.2 524.9 1676.4 514.7 1683.0 507.3 1691.8 502.2 1699.1 501.5 1703.5 505.9 1710.8 507.3 1709.4 513.2 1712.3 519.1 1729.9 513.2 1762.1 529.3 1766.5 536.6 1756.2 542.5 1743.1 543.2 1731.3 541.0 1719.6 535.2 1709.4 534.9 1691.8 541.8 1677.2 541.0M1716.7 508.8 1722.6 504.4 1747.4 499.3 1756.2 498.6 1746.0 501.5 1743.1 507.3 1732.8 513.2 1722.6 512.5 1716.7 508.8M1440.0 582.0 1454.6 581.3 1460.5 584.2 1473.7 578.4 1482.5 573.2 1501.5 571.0 1511.7 573.2 1519.1 570.0 1530.8 571.8 1542.5 568.1 1551.3 571.8 1548.3 574.0 1552.7 583.5 1545.4 589.3 1546.9 593.0 1560.0 599.6 1568.8 598.9 1580.5 602.5 1586.4 609.8 1605.4 615.7 1608.4 617.2 1615.7 612.8 1615.7 604.0 1627.4 598.9 1636.2 600.3 1639.1 604.0 1650.8 606.2 1652.3 609.1 1668.4 612.8 1678.6 614.2 1691.8 609.8 1700.6 610.6 1703.5 624.5 1712.3 636.2 1713.8 640.0M1718.2 623.0 1713.8 633.3M1721.1 631.8 1726.9 640.0M1784.0 590.8 1787.0 596.7 1794.3 601.1 1800.0 602.5M1450.0 419.0 1447.5 429.4 1457.4 430.7 1453.7 436.9 1462.4 445.6 1472.4 451.8 1474.9 459.3 1486.1 461.8 1487.3 465.5 1482.3 471.7 1486.1 474.2 1483.6 479.2 1473.6 484.2M1753.7 372.2 1768.6 364.7 1783.6 367.2 1784.8 349.8 1800.0 352.3M1788.5 357.2 1800.0 359.7M1753.7 372.2 1766.1 379.6 1768.6 385.9 1791.0 394.6M1763.7 426.9 1776.1 425.7 1779.8 431.9 1788.5 436.9 1800.0 435.7M1835.4 326.0 1847.3 322.0 1842.3 320.0 1851.3 317.0 1850.3 313.1 1867.1 308.1 1867.1 303.2 1902.9 294.2 1930.6 293.8 1956.4 290.3 1954.4 296.2 1904.8 302.2 1896.9 305.1 1887.0 308.1 1881.0 313.1 1871.1 316.0 1863.2 320.0 1861.2 324.0 1879.0 334.9 1853.3 334.9 1849.3 328.9 1837.4 328.9 1835.4 326.0M1760.0 367.6 1769.9 363.7 1783.8 367.6 1784.8 351.8 1777.9 348.8 1801.7 352.8 1789.8 357.7 1797.7 361.7 1808.6 360.7 1809.6 356.7 1819.5 355.7 1815.6 353.7 1841.3 349.8 1857.2 346.8 1843.3 351.8 1839.4 355.7 1839.4 371.6 1855.2 371.6 1868.1 364.7 1875.1 371.6M1760.0 356.7 1765.0 358.7 1760.0 361.7M1760.0 377.6 1767.9 379.5 1766.0 383.5 1769.9 387.5 1790.8 395.4M1841.3 349.8 1861.2 349.8 1877.1 349.8 1889.0 345.8 1894.9 350.8 1902.9 347.8 1898.9 341.8 1900.9 340.8 1934.6 345.8 1953.5 352.8 1960.4 346.8 1950.5 341.8 1942.5 341.8 1942.5 331.9 1952.5 328.9 1961.4 318.0 1976.3 318.0 1986.2 320.0 1978.3 328.9 1985.2 333.9 1983.2 345.8 1990.2 350.8 1977.3 360.7 1942.5 362.7 1934.6 367.6 1931.6 374.6 1935.6 382.5 1930.6 388.5 1956.4 400.4 1964.4 405.3 1964.4 411.3 1958.4 413.3 1952.5 423.2M1958.4 400.4 2002.1 401.0 2021.9 405.3 2029.8 412.3 2047.7 419.2 2059.6 425.2 2067.5 430.1 2063.6 436.1M1986.2 328.9 2000.1 324.0 2008.0 330.9 2025.9 332.9 2017.9 328.0 2023.9 322.0 2039.8 325.0 2047.7 326.0 2061.6 327.0 2061.6 340.8 2051.7 336.9 2057.6 329.9 2049.7 335.9M1986.2 328.9 1996.1 334.9 1992.1 345.8 2012.0 345.8 2019.9 347.8 2023.9 355.7 2016.0 355.7 2014.0 349.8 2000.1 347.8 1999.1 355.7 1980.2 366.6 1958.4 362.7M2061.6 340.8 2077.5 341.8 2079.4 362.7 2089.4 363.7 2091.3 368.6 2085.4 385.5 2098.3 392.4M2061.6 327.0 2039.8 314.1 2081.4 312.1 2077.5 305.1 2085.4 302.2 2109.2 300.2 2129.0 297.2 2148.9 297.2 2168.7 295.2 2182.6 294.2 2186.6 289.3 2204.4 285.3 2220.3 287.3 2206.4 289.3 2226.3 291.3 2252.1 291.3 2260.0 294.2M2105.2 373.6 2120.1 378.5M2125.1 272.4 2158.8 267.4 2176.7 270.0 2175.7 277.4 2146.9 276.8 2125.1 272.4M2177.7 283.3 2192.5 274.4 2202.5 274.4 2214.4 279.3 2177.7 283.3M2172.7 328.9 2210.4 319.0M2214.4 319.0 2224.3 313.1 2260.0 305.1M2222.3 316.0 2256.0 312.1M1764.0 427.1 1779.8 425.2 1776.9 433.1 1787.8 437.1 1801.7 434.1 1819.5 441.0M2202.5 467.8 2216.3 464.8 2238.2 454.9 2244.1 439.1 2240.2 439.1 2232.2 451.0 2216.3 464.8M2240.0 292.2 2253.9 291.3 2273.7 298.2 2263.8 299.2 2271.7 302.2 2240.0 310.1M2240.0 315.1 2253.9 313.1 2265.8 311.1 2270.8 317.0 2285.6 313.1 2307.5 314.1 2305.5 317.0 2319.4 320.0 2337.2 324.0 2342.2 325.0 2333.3 332.3M2335.2 319.0 2347.1 312.5 2360.0 316.4 2378.9 316.4 2382.9 320.0 2374.9 322.0 2382.9 324.0 2374.9 325.4 2392.8 334.9 2405.7 325.0 2412.6 329.5 2428.5 327.6 2441.4 331.5 2442.4 328.9 2456.3 328.9 2451.3 323.0 2462.2 320.0 2464.2 319.0 2503.9 322.0 2515.8 322.4 2527.7 325.0 2519.8 328.0 2525.7 329.5 2543.6 333.9 2567.4 331.9 2589.2 332.9 2605.1 345.8 2613.0 341.4 2644.8 342.8 2650.7 340.8 2656.7 345.8 2670.6 348.8 2674.5 344.8 2668.6 342.8 2670.6 338.3 2690.4 340.3 2710.2 339.5 2730.1 344.8M2486.0 323.0 2496.0 328.0 2503.9 323.0M2527.7 330.9 2507.9 335.9 2507.9 346.8M2552.5 356.7 2567.4 356.7 2585.2 347.4 2601.1 349.8M2435.4 300.2 2448.3 295.8 2460.2 300.2 2466.2 296.2 2494.0 301.2 2482.1 305.7 2442.4 306.1 2435.4 300.2M2369.0 329.9 2357.1 335.9 2337.2 356.7 2347.1 373.6 2359.0 378.5 2374.9 382.5 2382.9 384.5 2408.7 385.5 2410.6 389.5 2425.5 390.4 2421.5 407.3M2308.5 385.1 2341.2 380.5 2353.1 382.5 2361.0 378.5M2382.9 384.5 2386.8 393.4 2376.9 400.4 2345.2 405.3 2323.3 403.9 2305.5 409.3 2291.6 405.3 2281.7 403.3 2262.8 414.3M2422.5 445.0 2444.4 434.1 2474.1 415.2 2496.0 413.3 2499.9 415.2 2503.9 412.9 2519.8 413.7 2523.7 410.9 2541.6 414.3 2535.6 417.2 2562.4 415.2 2555.5 412.3 2573.3 398.4 2599.1 395.4 2595.2 403.3 2599.1 405.3 2613.0 397.4 2619.0 397.4 2619.0 391.4 2633.8 391.8M2611.0 405.3 2585.2 423.2 2575.3 424.2 2565.4 443.0 2573.3 470.0M2611.0 405.3 2628.9 406.3 2640.8 405.3 2662.6 405.3 2668.6 409.3 2692.4 397.4 2716.2 391.4 2730.1 393.4M2628.9 406.3 2622.9 411.3 2613.0 423.2 2621.0 425.2 2613.0 431.1 2621.0 437.1 2611.0 437.1 2611.0 446.0 2597.1 451.0 2597.1 457.9 2585.2 458.9 2575.3 468.8M2702.3 375.6 2730.1 375.6M2720.2 377.6 2730.1 387.5M2240.0 443.0 2246.0 439.1 2243.0 452.9 2240.0 453.9M2422.5 445.0 2432.5 448.0 2434.4 452.9 2440.4 450.0 2438.4 454.9 2448.3 450.0 2454.3 450.0 2466.2 456.9 2460.2 462.9 2448.3 470.0M2472.1 449.0 2476.1 448.0 2480.1 470.0M2422.5 444.0 2432.5 447.9 2436.4 454.9 2448.3 448.9 2454.3 448.9 2466.2 455.9 2454.3 458.8 2460.2 463.8 2438.4 474.7 2430.5 480.7 2426.5 486.6 2408.7 493.6 2398.7 497.5 2388.8 501.9M2466.2 455.9 2474.1 448.9 2477.1 454.9 2480.1 468.8 2490.0 489.6 2482.1 485.6 2476.1 487.6 2474.1 497.5 2482.1 507.5 2472.1 503.5 2470.2 505.5 2473.1 475.7 2466.2 459.8M2466.2 459.8 2460.2 473.7 2459.2 487.6 2442.4 505.5 2422.5 525.3 2407.7 531.3 2398.7 526.3 2392.8 531.3 2384.8 537.2 2382.9 543.2 2369.0 551.1 2368.0 555.1 2376.9 561.0 2382.9 570.9 2382.9 578.9 2378.9 583.8 2369.0 584.8 2361.0 588.8 2359.0 582.8 2363.0 576.9 2359.0 569.0 2351.1 563.0 2348.1 562.0 2355.1 551.1 2343.2 549.1 2329.3 554.1 2325.3 558.0 2331.3 549.1 2327.3 542.2 2319.4 545.1 2309.4 554.1 2299.5 555.1 2299.5 561.0 2308.5 563.0 2310.4 569.9 2321.3 565.0 2335.2 569.0 2321.3 574.9 2317.4 578.9 2310.4 585.8 2317.4 590.8 2319.4 596.7 2323.3 602.7 2330.3 607.6 2315.4 606.6 2316.4 612.6 2330.3 614.6 2329.3 623.5 2325.3 632.4 2319.4 640.4 2313.4 644.3 2312.4 650.3 2299.5 658.2 2289.6 666.2 2279.7 670.1 2271.7 671.1 2265.8 667.2 2247.9 666.2 2246.0 680.1 2240.0 682.0M2313.4 600.7 2305.5 606.6 2287.6 620.5 2279.7 614.6M2287.6 620.5 2291.6 627.5M2470.2 510.4 2481.1 520.3 2494.0 519.4 2496.9 525.3 2482.1 531.3 2479.1 536.2 2462.2 531.3 2458.3 526.3 2465.2 525.7 2470.2 510.4M2456.3 531.3 2455.3 539.2 2464.2 543.2 2460.2 545.1 2455.3 549.1 2456.3 554.1 2453.3 559.0 2438.4 569.9 2436.4 567.0 2432.5 569.0 2427.5 579.9 2408.7 579.9 2392.8 589.8 2396.7 593.8 2404.7 590.8 2414.6 586.8 2422.5 586.8 2425.5 595.7 2434.4 590.8 2438.4 586.8 2448.3 585.8 2454.3 580.9 2462.2 578.9 2460.2 571.9 2464.2 562.0 2470.2 559.0 2471.2 553.1 2466.2 540.2 2462.2 533.2M2382.9 595.7 2390.8 594.7 2396.7 596.7 2400.7 600.7 2396.7 608.6 2391.8 612.6 2386.8 610.6 2388.8 603.7 2384.8 600.7 2382.9 595.7M2402.7 598.7 2410.6 594.7 2418.6 592.8 2416.6 587.8 2404.7 590.8 2402.7 598.7M2315.4 666.2 2323.3 653.3 2330.3 654.3 2322.3 675.1 2315.4 666.2M2319.4 711.0 2320.4 698.9 2332.3 699.9 2333.3 711.0M2565.4 440.0 2573.3 473.7 2587.2 463.8 2587.2 458.8 2597.1 457.9 2597.1 450.9 2612.0 446.0 2612.0 440.0M2240.0 440.0 2246.0 440.0 2243.0 449.9 2240.0 452.9M2240.0 695.9 2247.9 690.0 2253.9 691.0 2246.0 699.9 2240.0 703.9M1817.5 503.5 1833.4 499.1 1847.3 500.5 1848.3 503.5 1845.3 511.4 1848.3 512.4 1835.4 511.4 1831.4 516.4 1827.5 518.4 1836.4 518.4 1831.4 519.4 1834.4 527.3 1845.3 531.3 1842.3 535.2 1845.3 541.2 1844.3 548.1 1848.3 555.1 1852.3 556.1 1853.3 571.9 1838.4 573.9 1819.5 566.0 1817.5 558.0 1821.5 551.1 1823.5 547.1 1827.5 547.1 1821.5 545.1 1809.6 531.3 1808.6 523.3 1806.6 525.3 1801.7 517.4 1806.6 509.4 1815.6 508.4 1819.5 503.5 1817.5 503.5M1807.6 500.5 1811.6 504.5M1845.3 537.2 1851.3 534.2 1859.2 542.2 1851.3 545.1 1847.3 543.2 1845.3 537.2M1883.0 507.5 1891.0 507.5 1894.9 504.5 1898.9 503.5 1907.8 502.5 1902.9 507.5 1909.8 514.4 1902.9 519.4 1902.9 524.3 1894.9 526.3 1891.0 524.3 1883.0 523.3 1882.0 515.4 1883.0 507.5M1989.2 508.4 1994.1 514.4 1995.1 506.5 2002.1 501.5 2023.9 505.5 2030.8 503.1M1783.8 590.8 1786.8 598.7 1795.7 602.7 1801.7 601.7 1803.7 605.7M1809.6 624.5 1817.5 617.6 1825.5 618.6 1835.4 633.4 1843.3 636.4 1853.3 643.3 1859.2 644.3 1872.1 638.4 1877.1 648.3 1894.9 652.3 1907.8 654.3 1940.6 649.9 1942.5 655.3 1947.5 657.2 1947.5 662.2 1954.4 662.2 1960.4 668.1 1968.3 670.1 1958.4 674.1 1970.3 685.0 1980.2 681.0 1982.2 674.1 1986.2 675.1 1983.2 678.1 1984.2 690.0 1988.2 711.0M1950.5 642.4 1954.4 636.4 1962.4 632.0M1871.1 644.3 1869.1 650.3 1873.1 660.2 1879.0 663.2 1887.0 665.2 1896.9 676.1 1887.0 686.0 1882.0 687.0 1880.0 695.9 1873.1 697.9 1868.1 703.9 1862.2 704.8 1857.2 711.0M1825.5 647.3 1831.4 656.2 1834.4 648.3 1836.4 647.3 1834.4 661.2 1841.3 660.2 1853.3 660.2 1870.1 646.3M1760.0 690.0 1773.9 711.0M2049.7 711.0 2063.6 701.9 2071.5 693.9 2080.4 690.0 2085.4 685.0 2083.4 681.0 2093.3 677.1 2105.2 676.1 2111.2 670.1 2117.1 671.1 2125.1 687.0 2133.0 692.0 2139.0 711.0M2090.4 654.3 2101.3 662.2M2102.3 658.2 2103.3 648.3 2110.2 646.3M2153.8 705.8 2155.8 711.0M2196.5 701.9 2204.4 701.9 2210.4 711.0M2214.4 681.0 2222.3 687.0 2216.3 692.0 2228.3 711.0M2222.3 687.0 2234.2 678.1 2242.1 677.1 2246.1 682.0 2250.1 680.1 2260.0 678.1M2244.1 682.0 2246.1 688.0 2242.1 691.0 2236.2 693.9 2240.2 701.9 2248.1 697.9 2254.0 692.0 2250.1 690.0M2246.1 666.2 2260.0 666.2M2202.5 467.8 2216.3 467.8 2238.2 455.9 2244.1 440.0M2216.3 467.8 2240.2 455.9M1734.6 680.0 1736.5 696.9 1744.5 703.8 1752.4 721.7 1753.4 724.6 1763.3 727.6 1779.2 742.5 1773.3 749.4 1777.2 747.5 1787.1 757.4 1797.1 753.4 1801.0 755.4 1807.0 751.4 1820.9 749.4 1831.8 745.5 1834.8 747.5 1832.8 757.4 1835.8 757.4 1831.8 764.3 1811.0 799.0 1797.1 813.9 1779.2 825.8 1765.3 841.7 1761.3 843.7 1756.4 848.6 1750.4 860.5 1746.5 871.4 1752.4 879.4 1750.4 885.3 1753.4 900.2 1760.4 905.2 1757.4 908.1 1760.4 920.1 1758.4 921.0 1761.3 933.9 1753.4 945.8 1739.5 951.0M1749.4 680.0 1761.3 691.9 1774.2 712.7 1773.3 722.7 1780.2 740.5 1790.1 740.5 1795.1 736.5 1815.9 731.6 1820.9 727.6 1840.7 720.7 1842.7 714.7 1860.6 710.8 1863.5 704.8 1869.5 704.8 1872.5 698.8 1880.4 696.9 1880.4 687.9 1884.4 686.9 1891.3 680.0M1963.7 680.0 1971.7 685.6 1981.6 682.0 1985.6 688.9 1983.6 689.9 1989.5 716.7 2007.4 752.4 2011.3 766.3 2018.3 773.2 2022.3 770.3 2024.2 766.3 2029.2 765.3 2033.2 758.4 2034.2 748.4 2037.1 737.5 2035.2 721.7 2037.1 719.7 2043.1 719.7 2045.1 715.7 2051.0 713.7 2052.0 709.8 2064.9 701.8 2070.9 694.9 2078.8 690.9 2084.8 685.0 2084.8 680.0M2035.2 761.3 2041.1 765.3 2047.1 774.2 2049.0 781.2 2045.1 786.1 2038.1 788.1 2035.2 779.2 2033.2 772.3 2035.2 761.3M2118.5 680.0 2126.4 687.9 2132.4 690.9 2136.3 701.8 2136.3 718.7 2142.3 717.7 2148.3 712.7 2154.2 707.8 2159.2 712.7 2160.2 728.6 2165.1 736.5 2167.1 747.5 2164.1 755.4 2163.1 771.3 2170.1 781.2 2180.0 791.1M2180.0 736.5 2176.0 737.5 2175.0 746.5 2171.1 756.4 2170.1 763.3 2176.0 765.3 2180.0 773.2M2142.3 791.1 2160.2 793.1 2163.1 800.0 2172.1 806.0 2180.0 810.9M2142.3 791.1 2145.3 798.0 2154.2 805.0 2160.2 812.9 2166.1 816.9 2169.1 826.8 2178.0 836.7 2180.0 838.7M1696.9 830.8 1698.8 828.8 1707.8 826.8 1717.7 830.8 1714.7 834.7 1712.7 843.7 1705.8 850.6 1697.9 848.6 1695.9 843.7 1696.9 830.8M1680.0 852.6 1684.0 875.4 1688.9 889.3 1693.9 891.3 1686.0 876.4 1682.0 858.6M1712.7 896.2 1719.7 906.2 1718.7 913.1 1721.7 931.0 1716.7 930.0 1712.7 916.1 1715.7 911.1 1712.7 896.2M1783.2 951.0 1786.2 943.9 1799.0 939.9 1807.0 934.9 1811.9 928.0 1816.9 924.0 1816.9 917.1 1819.9 914.1 1825.8 921.0 1828.8 937.9 1824.8 941.9 1822.9 951.0M1713.7 946.8 1721.7 951.0M2212.6 680.0 2220.2 685.4 2214.8 696.3 2225.7 711.5 2236.5 721.3 2240.9 732.2 2243.0 742.0 2238.7 750.7 2225.7 757.2 2221.3 762.6 2210.4 769.1 2208.3 765.9 2212.6 757.2 2210.4 749.6 2212.6 745.2 2218.0 743.0 2218.0 734.3 2215.9 723.5 2213.7 718.0 2208.3 708.3 2205.0 702.8 2198.5 701.7M2180.0 735.4 2184.3 740.9 2193.0 743.0 2197.4 751.7 2201.7 756.1 2212.6 763.7 2222.4 761.5M2208.3 742.0 2212.6 755.0 2218.0 762.6M2236.5 695.2 2245.2 689.8 2253.9 690.9 2249.6 698.5 2243.0 702.8 2238.7 700.7 2236.5 695.2M2245.2 680.0 2246.3 686.5 2253.9 680.0M2180.0 780.0 2188.7 783.3 2199.6 793.0 2201.7 810.4 2206.1 821.3 2195.2 817.0 2180.0 797.4M2180.0 838.7 2186.5 851.7 2208.3 871.3 2217.0 869.1 2219.1 853.9 2217.0 847.4 2210.4 842.0 2206.1 840.9 2201.7 834.3 2195.2 827.8 2184.3 819.1M2212.6 876.7 2223.5 872.4 2234.3 873.5 2240.9 877.8 2251.7 874.6 2264.8 877.8 2269.1 883.3 2277.8 885.4 2278.9 892.0 2251.7 887.6 2238.7 883.3 2221.3 882.2 2212.6 876.7M2238.7 819.1 2244.1 814.8 2255.0 817.0 2256.1 810.4 2267.0 808.3 2275.7 797.4 2284.3 795.2 2287.6 790.9 2294.1 781.1 2301.7 786.5 2310.4 792.0 2303.9 793.0 2301.7 799.6 2295.2 805.0 2301.7 813.7 2301.7 820.2 2309.3 823.5 2300.7 824.6 2299.6 832.2 2295.2 840.9 2288.7 843.0 2287.6 851.7 2277.8 859.3 2273.5 853.9 2267.0 852.8 2259.3 855.0 2257.2 850.7 2247.4 850.7 2244.1 838.7 2240.9 836.5 2238.7 827.8 2238.7 819.1M2319.1 822.4 2321.3 821.3 2343.0 823.5 2352.8 818.0 2346.3 827.8 2319.1 830.0 2315.9 832.2 2312.6 845.2 2307.2 850.7 2311.5 853.9 2312.6 869.1 2319.1 869.1 2317.0 862.6 2319.1 853.9 2325.7 860.4 2327.8 864.8 2336.5 860.4 2332.2 853.9 2325.7 845.2 2330.0 840.9 2340.9 835.4 2327.8 835.4 2321.3 839.8 2319.1 832.2M2319.1 699.6 2333.3 700.7 2332.2 706.1 2334.3 711.5 2325.7 723.5 2328.9 730.0 2336.5 732.2 2343.0 738.7 2353.9 742.0 2356.1 752.8 2351.7 749.6 2345.2 740.9 2332.2 737.6 2323.5 733.3 2319.1 728.9 2315.9 722.4 2314.3 717.0 2319.1 713.7 2320.2 703.9 2319.1 699.6M2330.0 746.3 2337.6 749.6 2340.9 762.6 2337.6 765.9 2331.1 756.1 2330.0 746.3M2345.2 769.1 2353.9 762.6 2360.4 764.8 2360.4 773.5 2362.6 778.9 2359.3 786.5 2353.9 790.9 2351.7 786.5 2345.2 782.2 2340.9 775.7 2336.5 772.4 2332.2 775.7 2330.0 780.0M2296.3 771.3 2314.8 750.7M2369.1 819.1 2372.4 814.8 2376.7 821.3 2371.3 825.7 2375.7 835.4M2393.0 839.8 2397.4 835.4 2406.1 833.3 2413.7 835.4 2414.8 849.6 2421.3 853.9 2427.8 849.6 2434.3 842.0 2442.0 839.8 2486.5 856.1 2497.4 864.8 2497.4 868.0 2510.4 872.4 2506.1 877.8 2514.8 888.7 2519.1 895.2 2532.2 901.7 2510.4 901.7 2499.6 888.7 2488.7 883.3 2482.2 884.3 2475.7 889.8 2473.5 895.2 2464.8 895.2 2451.7 886.5 2440.9 889.8 2445.2 883.3 2449.6 880.0 2443.0 873.5 2440.9 869.1 2421.3 860.4 2414.8 853.9 2407.2 858.3 2407.2 853.9 2399.6 849.6 2405.0 845.2 2401.7 840.9 2393.0 839.8M2371.3 853.9 2375.7 850.7 2385.4 850.7 2392.0 857.2 2382.2 853.9 2371.3 853.9M2514.8 869.1 2523.5 868.0 2536.5 867.0 2538.7 862.6 2537.6 859.3 2543.0 860.4 2538.7 867.0 2527.8 872.4 2523.5 873.5 2514.8 869.1M2293.0 890.9 2301.7 887.6 2310.4 889.8 2301.7 892.0 2295.2 893.0 2293.0 890.9M2314.8 890.9 2323.5 889.8 2332.2 888.7 2336.5 886.5 2334.3 889.8 2327.8 892.0 2319.1 892.0M2310.4 896.3 2319.1 895.2 2322.4 901.7 2310.4 896.3M2340.9 901.7 2351.7 894.1 2368.0 888.7 2353.9 892.0 2342.0 899.6 2340.9 901.7M2330.0 960.0 2332.2 947.4 2338.7 943.0 2343.0 938.7 2351.7 935.4 2356.1 930.0 2362.6 926.7 2371.3 930.0 2373.5 936.5 2382.2 932.2 2386.5 921.3 2388.7 918.0 2395.2 914.8 2401.7 910.4 2410.4 913.7 2421.3 913.7 2434.3 915.9 2430.0 921.3 2424.6 934.3 2434.3 943.0 2449.6 949.6 2453.9 952.8 2460.4 952.8 2469.1 932.2 2469.1 919.1 2472.4 906.1 2480.0 921.3 2483.3 930.0 2488.7 930.0 2494.1 935.4 2495.2 945.2 2499.6 951.7 2500.7 960.0M2398.5 908.3 2408.3 911.5M2717.0 955.0 2723.5 951.7 2726.7 956.1 2719.1 958.3M1536.3 834.9 1543.6 844.7 1560.8 859.4 1563.3 871.7 1568.2 891.3 1572.1 908.4 1563.3 920.7 1557.4 940.3 1557.4 955.0 1565.7 969.7 1576.5 986.9 1578.9 1013.9 1590.2 1031.0 1602.5 1048.2 1603.5 1058.0 1601.5 1060.4 1604.9 1070.2 1614.7 1073.7 1631.9 1069.3 1649.1 1070.2 1663.8 1065.3 1685.8 1048.2 1703.0 1028.6 1703.0 1011.4 1717.7 1001.6 1724.1 999.1 1722.6 984.4 1717.7 969.7 1732.4 958.5 1754.5 947.7 1761.8 933.0 1756.9 920.7 1759.4 903.5 1752.0 893.7 1752.0 883.9 1747.1 873.1 1756.9 849.6 1764.3 844.7 1775.1 830.0M1588.7 849.6 1588.7 842.3 1604.9 830.0M1715.2 947.7 1722.6 955.0M1779.0 984.4 1783.9 972.2 1786.3 959.9 1781.4 947.7 1798.6 940.3 1813.3 925.6 1820.7 915.8 1825.6 920.7 1829.0 937.9 1823.1 950.1 1805.9 1004.1 1791.2 1009.0 1783.9 1004.1 1779.0 984.4M2274.2 986.9 2276.6 979.5 2293.8 974.6 2308.5 967.3 2323.2 964.8 2333.0 952.6 2340.4 943.7 2352.6 933.0 2367.3 928.1 2374.7 933.0 2382.0 935.4 2386.9 923.2 2404.1 910.9 2426.2 913.3 2433.5 920.7 2426.2 935.4 2460.5 952.6 2467.8 940.3 2470.3 913.3 2475.2 906.0 2485.0 920.7 2485.0 933.0 2499.7 942.8 2502.2 962.4 2521.8 972.2 2526.7 986.9 2548.7 1011.4 2551.2 1031.0 2543.8 1055.5 2526.7 1075.1 2526.7 1092.3 2504.6 1097.2 2492.4 1102.1 2480.1 1098.7 2460.5 1094.8 2450.7 1080.0 2440.9 1070.2 2436.0 1060.4 2428.6 1075.1 2416.4 1060.4 2396.8 1050.6 2357.5 1055.5 2342.8 1067.8 2303.6 1067.8 2293.8 1075.1 2281.5 1072.7 2281.5 1065.3 2286.4 1055.5 2279.1 1031.0 2269.3 1013.9 2274.2 986.9M2489.9 1114.4 2509.5 1114.4 2512.0 1129.1 2502.2 1136.4 2494.8 1131.5 2489.9 1114.4M2624.7 972.2 2644.4 986.9M2715.4 955.0 2725.3 952.6 2727.7 958.5 2717.9 958.5 2715.4 955.0M1475.0 788.9 1496.7 785.1 1511.2 789.9 1523.3 797.1 1540.2 799.6 1545.0 814.1 1542.6 828.6 1536.4 834.8M1566.8 731.9 1574.0 729.5 1578.9 736.7 1571.6 741.6 1566.8 731.9M380.2 689.9 388.7 694.1 381.0 697.6 380.2 689.9M1549.5 272.2 1570.1 270.4 1572.7 273.5 1582.9 270.9 1589.4 269.7 1590.7 274.8 1600.9 268.4 1613.8 267.1 1618.9 270.9 1629.2 267.1 1634.4 265.3 1639.5 267.9 1663.9 269.7 1649.8 273.5 1634.4 274.8 1626.6 276.1 1618.9 277.4 1608.7 278.7 1602.2 283.8 1593.2 292.8 1582.9 288.9 1572.7 283.8 1563.7 278.7 1549.5 272.2M1080.8 307.6 1086.6 319.4 1098.4 320.8 1086.6 323.8 1101.3 328.2 1092.5 334.0 1113.1 337.0 1123.3 345.8 1101.3 348.7 1118.9 351.7 1098.4 357.5 1121.9 359.0 1101.3 366.3 1120.4 367.8 1107.2 375.1 1124.8 379.5 1110.1 383.9 1124.8 389.8 1118.9 394.2 1136.5 401.6 1154.2 403.0 1165.9 408.0M1324.4 269.5 1342.0 266.5 1324.4 282.7 1345.0 287.1 1318.5 292.9 1339.1 298.8 1315.6 301.7 1342.0 307.6 1318.5 313.5 1300.9 310.6 1289.2 316.4 1280.4 319.4 1300.9 322.3 1274.5 325.2 1298.0 331.1 1271.6 334.0 1295.1 337.0 1321.5 337.0M931.1 316.4 942.8 322.3 934.0 323.8 954.5 328.2 945.7 331.1 969.2 334.0 960.4 337.0 983.9 339.9 975.1 342.8 998.6 345.8 989.8 348.7 1007.4 351.7 1001.5 354.6 1022.1 357.5 1013.3 360.5 1036.7 361.9 1030.9 366.3M1171.8 404.5 1177.6 392.7 1186.4 386.9 1180.6 383.9 1192.3 375.1 1207.0 369.3 1212.9 366.3M2684.9 1071.1 2688.4 1071.5 2697.2 1077.2 2698.1 1084.7 2701.6 1086.9 2703.4 1089.5 2705.1 1086.0 2708.6 1093.0 2716.5 1096.6 2722.7 1093.0 2727.1 1094.4 2722.7 1104.5 2715.7 1104.5 2708.6 1118.5 2703.4 1121.6 2698.1 1119.4 2701.6 1115.0 2702.1 1109.7 2693.7 1105.3 2699.0 1101.8 2701.2 1094.8 2698.1 1089.5 2691.1 1079.0 2684.9 1071.1M2689.3 1073.7 2694.6 1080.7 2698.1 1084.3M2696.3 1118.5 2697.2 1122.0 2685.8 1132.6 2684.9 1137.8 2688.4 1137.8 2678.8 1135.2 2677.0 1137.8 2675.3 1138.7 2671.8 1151.9 2659.5 1157.6 2649.8 1154.1 2643.2 1154.1 2643.6 1147.5 2646.3 1145.8 2654.2 1138.3 2661.2 1137.4 2671.8 1132.1 2680.5 1116.8 2686.7 1114.1 2688.4 1120.3 2696.3 1117.6" fill="none" stroke="#000" stroke-width="2.5" stroke-linejoin="round" stroke-linecap="round"/></g><path d="M423.03 206.2V1453.8M633.40 206.2V1453.8M843.78 206.2V1453.8M1054.15 206.2V1453.8M1264.53 206.2V1453.8M1474.90 206.2V1453.8M1685.28 206.2V1453.8M1895.65 206.2V1453.8M2106.03 206.2V1453.8M2316.40 206.2V1453.8M2526.78 206.2V1453.8M220.0 1250.85H2730.3M220.0 1040.47H2730.3M220.0 830.10H2730.3M220.0 619.73H2730.3M220.0 409.35H2730.3" stroke="#000" stroke-width="4" stroke-dasharray="4 4.3" fill="none"/><rect x="216.0" y="202.2" width="2518.3" height="1255.6" fill="none" stroke="#000" stroke-width="8.3"/><text x="1475.3" y="82.7" font-size="66.8" text-anchor="middle">Number of Visible BDS Satellites, elevation≥5° (2023/10/08/01:00 BDT)</text><text x="216.2" y="164.4" font-size="50" text-anchor="middle">180°</text><text x="216.2" y="1525.0" font-size="50" text-anchor="middle">180°</text><text x="423.0" y="164.4" font-size="50" text-anchor="middle">-150°</text><text x="423.0" y="1525.0" font-size="50" text-anchor="middle">-150°</text><text x="633.4" y="164.4" font-size="50" text-anchor="middle">-120°</text><text x="633.4" y="1525.0" font-size="50" text-anchor="middle">-120°</text><text x="843.8" y="164.4" font-size="50" text-anchor="middle">-90°</text><text x="843.8" y="1525.0" font-size="50" text-anchor="middle">-90°</text><text x="1054.2" y="164.4" font-size="50" text-anchor="middle">-60°</text><text x="1054.2" y="1525.0" font-size="50" text-anchor="middle">-60°</text><text x="1264.5" y="164.4" font-size="50" text-anchor="middle">-30°</text><text x="1264.5" y="1525.0" font-size="50" text-anchor="middle">-30°</text><text x="1474.9" y="164.4" font-size="50" text-anchor="middle">0°</text><text x="1474.9" y="1525.0" font-size="50" text-anchor="middle">0°</text><text x="1685.3" y="164.4" font-size="50" text-anchor="middle">+30°</text><text x="1685.3" y="1525.0" font-size="50" text-anchor="middle">+30°</text><text x="1895.7" y="164.4" font-size="50" text-anchor="middle">+60°</text><text x="1895.7" y="1525.0" font-size="50" text-anchor="middle">+60°</text><text x="2106.0" y="164.4" font-size="50" text-anchor="middle">+90°</text><text x="2106.0" y="1525.0" font-size="50" text-anchor="middle">+90°</text><text x="2316.4" y="164.4" font-size="50" text-anchor="middle">+120°</text><text x="2316.4" y="1525.0" font-size="50" text-anchor="middle">+120°</text><text x="2526.8" y="164.4" font-size="50" text-anchor="middle">+150°</text><text x="2526.8" y="1525.0" font-size="50" text-anchor="middle">+150°</text><text x="2733.6" y="164.4" font-size="50" text-anchor="middle">180°</text><text x="2733.6" y="1525.0" font-size="50" text-anchor="middle">180°</text><text x="186" y="216.1" font-size="50" text-anchor="end">+90°</text><text x="2762" y="216.1" font-size="50" text-anchor="start">+90°</text><text x="186" y="423.0" font-size="50" text-anchor="end">+60°</text><text x="2762" y="423.0" font-size="50" text-anchor="start">+60°</text><text x="186" y="633.3" font-size="50" text-anchor="end">+30°</text><text x="2762" y="633.3" font-size="50" text-anchor="start">+30°</text><text x="186" y="843.7" font-size="50" text-anchor="end">0°</text><text x="2762" y="843.7" font-size="50" text-anchor="start">0°</text><text x="186" y="1054.1" font-size="50" text-anchor="end">-30°</text><text x="2762" y="1054.1" font-size="50" text-anchor="start">-30°</text><text x="186" y="1264.4" font-size="50" text-anchor="end">-60°</text><text x="2762" y="1264.4" font-size="50" text-anchor="start">-60°</text><text x="186" y="1471.3" font-size="50" text-anchor="end">-90°</text><text x="2762" y="1471.3" font-size="50" text-anchor="start">-90°</text><text x="1475" y="1593.7" font-size="61.1" text-anchor="middle">Longitude</text><text transform="translate(74.2,835) rotate(-90)" x="0" y="0" font-size="61.1" text-anchor="middle">Latitude</text><rect x="2914" y="1303.25" width="50" height="158.05" fill="#ffffff"/><rect x="2914" y="1145.50" width="50" height="158.05" fill="#d4ffff"/><rect x="2914" y="987.75" width="50" height="158.05" fill="#afeeee"/><rect x="2914" y="830.00" width="50" height="158.05" fill="#00ffff"/><rect x="2914" y="672.25" width="50" height="158.05" fill="#66ff00"/><rect x="2914" y="514.50" width="50" height="158.05" fill="#ccff11"/><rect x="2914" y="356.75" width="50" height="158.05" fill="#eaff00"/><rect x="2914" y="199.00" width="50" height="158.05" fill="#fff22a"/><rect x="2914" y="199" width="50" height="1262" fill="none" stroke="#000" stroke-width="2"/><path d="M2964 1461.00H2974" stroke="#000" stroke-width="2"/><text x="2984" y="1475.7" font-size="38.9">0</text><path d="M2964 1303.25H2974" stroke="#000" stroke-width="2"/><text x="2984" y="1318.0" font-size="38.9">2</text><path d="M2964 1145.50H2974" stroke="#000" stroke-width="2"/><text x="2984" y="1160.2" font-size="38.9">4</text><path d="M2964 987.75H2974" stroke="#000" stroke-width="2"/><text x="2984" y="1002.5" font-size="38.9">6</text><path d="M2964 830.00H2974" stroke="#000" stroke-width="2"/><text x="2984" y="844.7" font-size="38.9">8</text><path d="M2964 672.25H2974" stroke="#000" stroke-width="2"/><text x="2984" y="687.0" font-size="38.9">10</text><path d="M2964 514.50H2974" stroke="#000" stroke-width="2"/><text x="2984" y="529.2" font-size="38.9">12</text><path d="M2964 356.75H2974" stroke="#000" stroke-width="2"/><text x="2984" y="371.4" font-size="38.9">14</text><path d="M2964 199.00H2974" stroke="#000" stroke-width="2"/><text x="2984" y="213.7" font-size="38.9">16</text></svg></body></html>
